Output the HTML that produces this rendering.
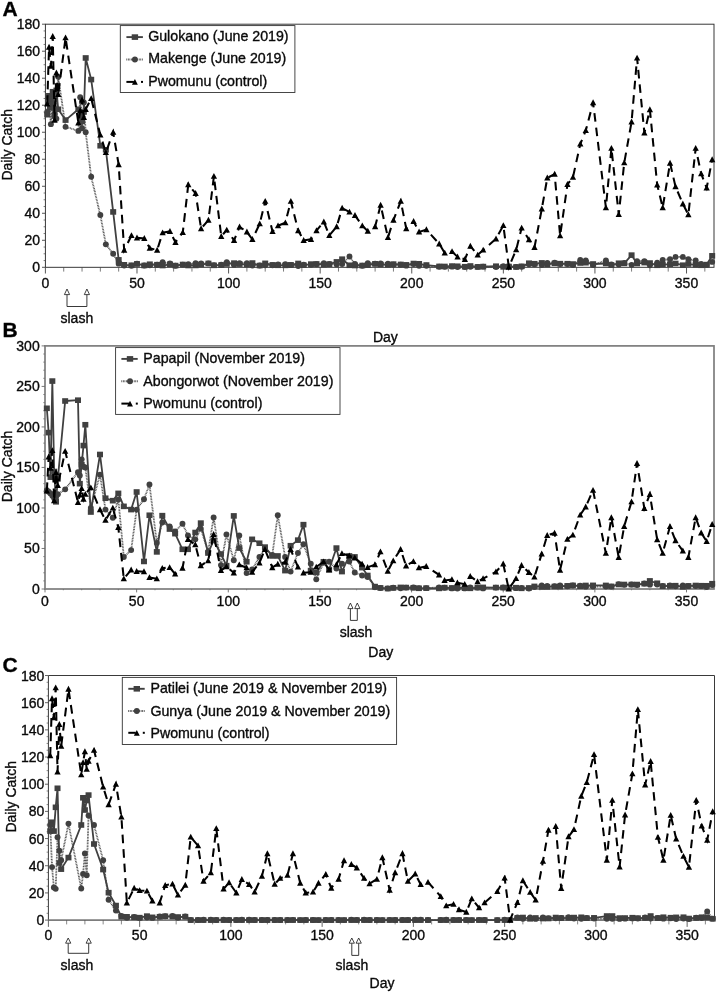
<!DOCTYPE html>
<html><head><meta charset="utf-8"><title>Daily Catch</title>
<style>
html,body{margin:0;padding:0;background:#fff;}
svg{display:block;font-family:"Liberation Sans",sans-serif;fill:#0a0a0a;}
text{stroke:#0a0a0a;stroke-width:0.35px;}
</style></head><body>
<svg width="717" height="993" viewBox="0 0 717 993">
<rect width="717" height="993" fill="#fff"/>
<rect x="45.4" y="24.2" width="668.6" height="243.1" fill="none" stroke="#2e2e2e" stroke-width="0.95"/>
<line x1="42" x2="45.4" y1="267.3" y2="267.3" stroke="#444" stroke-width="0.9"/>
<text x="40.1" y="272.3" font-size="14" text-anchor="end">0</text>
<line x1="43.6" x2="45.4" y1="260.55" y2="260.55" stroke="#444" stroke-width="0.7"/>
<line x1="43.6" x2="45.4" y1="253.79" y2="253.79" stroke="#444" stroke-width="0.7"/>
<line x1="43.6" x2="45.4" y1="247.04" y2="247.04" stroke="#444" stroke-width="0.7"/>
<line x1="42" x2="45.4" y1="240.29" y2="240.29" stroke="#444" stroke-width="0.9"/>
<text x="40.1" y="245.29" font-size="14" text-anchor="end">20</text>
<line x1="43.6" x2="45.4" y1="233.54" y2="233.54" stroke="#444" stroke-width="0.7"/>
<line x1="43.6" x2="45.4" y1="226.78" y2="226.78" stroke="#444" stroke-width="0.7"/>
<line x1="43.6" x2="45.4" y1="220.03" y2="220.03" stroke="#444" stroke-width="0.7"/>
<line x1="42" x2="45.4" y1="213.28" y2="213.28" stroke="#444" stroke-width="0.9"/>
<text x="40.1" y="218.28" font-size="14" text-anchor="end">40</text>
<line x1="43.6" x2="45.4" y1="206.53" y2="206.53" stroke="#444" stroke-width="0.7"/>
<line x1="43.6" x2="45.4" y1="199.77" y2="199.77" stroke="#444" stroke-width="0.7"/>
<line x1="43.6" x2="45.4" y1="193.02" y2="193.02" stroke="#444" stroke-width="0.7"/>
<line x1="42" x2="45.4" y1="186.27" y2="186.27" stroke="#444" stroke-width="0.9"/>
<text x="40.1" y="191.27" font-size="14" text-anchor="end">60</text>
<line x1="43.6" x2="45.4" y1="179.51" y2="179.51" stroke="#444" stroke-width="0.7"/>
<line x1="43.6" x2="45.4" y1="172.76" y2="172.76" stroke="#444" stroke-width="0.7"/>
<line x1="43.6" x2="45.4" y1="166.01" y2="166.01" stroke="#444" stroke-width="0.7"/>
<line x1="42" x2="45.4" y1="159.26" y2="159.26" stroke="#444" stroke-width="0.9"/>
<text x="40.1" y="164.26" font-size="14" text-anchor="end">80</text>
<line x1="43.6" x2="45.4" y1="152.5" y2="152.5" stroke="#444" stroke-width="0.7"/>
<line x1="43.6" x2="45.4" y1="145.75" y2="145.75" stroke="#444" stroke-width="0.7"/>
<line x1="43.6" x2="45.4" y1="139" y2="139" stroke="#444" stroke-width="0.7"/>
<line x1="42" x2="45.4" y1="132.24" y2="132.24" stroke="#444" stroke-width="0.9"/>
<text x="40.1" y="137.24" font-size="14" text-anchor="end">100</text>
<line x1="43.6" x2="45.4" y1="125.49" y2="125.49" stroke="#444" stroke-width="0.7"/>
<line x1="43.6" x2="45.4" y1="118.74" y2="118.74" stroke="#444" stroke-width="0.7"/>
<line x1="43.6" x2="45.4" y1="111.99" y2="111.99" stroke="#444" stroke-width="0.7"/>
<line x1="42" x2="45.4" y1="105.23" y2="105.23" stroke="#444" stroke-width="0.9"/>
<text x="40.1" y="110.23" font-size="14" text-anchor="end">120</text>
<line x1="43.6" x2="45.4" y1="98.48" y2="98.48" stroke="#444" stroke-width="0.7"/>
<line x1="43.6" x2="45.4" y1="91.73" y2="91.73" stroke="#444" stroke-width="0.7"/>
<line x1="43.6" x2="45.4" y1="84.98" y2="84.98" stroke="#444" stroke-width="0.7"/>
<line x1="42" x2="45.4" y1="78.22" y2="78.22" stroke="#444" stroke-width="0.9"/>
<text x="40.1" y="83.22" font-size="14" text-anchor="end">140</text>
<line x1="43.6" x2="45.4" y1="71.47" y2="71.47" stroke="#444" stroke-width="0.7"/>
<line x1="43.6" x2="45.4" y1="64.72" y2="64.72" stroke="#444" stroke-width="0.7"/>
<line x1="43.6" x2="45.4" y1="57.96" y2="57.96" stroke="#444" stroke-width="0.7"/>
<line x1="42" x2="45.4" y1="51.21" y2="51.21" stroke="#444" stroke-width="0.9"/>
<text x="40.1" y="56.21" font-size="14" text-anchor="end">160</text>
<line x1="43.6" x2="45.4" y1="44.46" y2="44.46" stroke="#444" stroke-width="0.7"/>
<line x1="43.6" x2="45.4" y1="37.71" y2="37.71" stroke="#444" stroke-width="0.7"/>
<line x1="43.6" x2="45.4" y1="30.95" y2="30.95" stroke="#444" stroke-width="0.7"/>
<line x1="42" x2="45.4" y1="24.2" y2="24.2" stroke="#444" stroke-width="0.9"/>
<text x="40.1" y="29.2" font-size="14" text-anchor="end">180</text>
<line x1="45.4" x2="45.4" y1="267.3" y2="273.5" stroke="#444" stroke-width="0.9"/>
<text x="45.4" y="287.9" font-size="14" text-anchor="middle">0</text>
<line x1="63.72" x2="63.72" y1="267.3" y2="271.6" stroke="#444" stroke-width="0.7"/>
<line x1="82.04" x2="82.04" y1="267.3" y2="271.6" stroke="#444" stroke-width="0.7"/>
<line x1="100.35" x2="100.35" y1="267.3" y2="271.6" stroke="#444" stroke-width="0.7"/>
<line x1="118.67" x2="118.67" y1="267.3" y2="271.6" stroke="#444" stroke-width="0.7"/>
<line x1="136.99" x2="136.99" y1="267.3" y2="273.5" stroke="#444" stroke-width="0.9"/>
<text x="136.99" y="287.9" font-size="14" text-anchor="middle">50</text>
<line x1="155.31" x2="155.31" y1="267.3" y2="271.6" stroke="#444" stroke-width="0.7"/>
<line x1="173.62" x2="173.62" y1="267.3" y2="271.6" stroke="#444" stroke-width="0.7"/>
<line x1="191.94" x2="191.94" y1="267.3" y2="271.6" stroke="#444" stroke-width="0.7"/>
<line x1="210.26" x2="210.26" y1="267.3" y2="271.6" stroke="#444" stroke-width="0.7"/>
<line x1="228.58" x2="228.58" y1="267.3" y2="273.5" stroke="#444" stroke-width="0.9"/>
<text x="228.58" y="287.9" font-size="14" text-anchor="middle">100</text>
<line x1="246.9" x2="246.9" y1="267.3" y2="271.6" stroke="#444" stroke-width="0.7"/>
<line x1="265.21" x2="265.21" y1="267.3" y2="271.6" stroke="#444" stroke-width="0.7"/>
<line x1="283.53" x2="283.53" y1="267.3" y2="271.6" stroke="#444" stroke-width="0.7"/>
<line x1="301.85" x2="301.85" y1="267.3" y2="271.6" stroke="#444" stroke-width="0.7"/>
<line x1="320.17" x2="320.17" y1="267.3" y2="273.5" stroke="#444" stroke-width="0.9"/>
<text x="320.17" y="287.9" font-size="14" text-anchor="middle">150</text>
<line x1="338.48" x2="338.48" y1="267.3" y2="271.6" stroke="#444" stroke-width="0.7"/>
<line x1="356.8" x2="356.8" y1="267.3" y2="271.6" stroke="#444" stroke-width="0.7"/>
<line x1="375.12" x2="375.12" y1="267.3" y2="271.6" stroke="#444" stroke-width="0.7"/>
<line x1="393.44" x2="393.44" y1="267.3" y2="271.6" stroke="#444" stroke-width="0.7"/>
<line x1="411.76" x2="411.76" y1="267.3" y2="273.5" stroke="#444" stroke-width="0.9"/>
<text x="411.76" y="287.9" font-size="14" text-anchor="middle">200</text>
<line x1="430.07" x2="430.07" y1="267.3" y2="271.6" stroke="#444" stroke-width="0.7"/>
<line x1="448.39" x2="448.39" y1="267.3" y2="271.6" stroke="#444" stroke-width="0.7"/>
<line x1="466.71" x2="466.71" y1="267.3" y2="271.6" stroke="#444" stroke-width="0.7"/>
<line x1="485.03" x2="485.03" y1="267.3" y2="271.6" stroke="#444" stroke-width="0.7"/>
<line x1="503.35" x2="503.35" y1="267.3" y2="273.5" stroke="#444" stroke-width="0.9"/>
<text x="503.35" y="287.9" font-size="14" text-anchor="middle">250</text>
<line x1="521.66" x2="521.66" y1="267.3" y2="271.6" stroke="#444" stroke-width="0.7"/>
<line x1="539.98" x2="539.98" y1="267.3" y2="271.6" stroke="#444" stroke-width="0.7"/>
<line x1="558.3" x2="558.3" y1="267.3" y2="271.6" stroke="#444" stroke-width="0.7"/>
<line x1="576.62" x2="576.62" y1="267.3" y2="271.6" stroke="#444" stroke-width="0.7"/>
<line x1="594.93" x2="594.93" y1="267.3" y2="273.5" stroke="#444" stroke-width="0.9"/>
<text x="594.93" y="287.9" font-size="14" text-anchor="middle">300</text>
<line x1="613.25" x2="613.25" y1="267.3" y2="271.6" stroke="#444" stroke-width="0.7"/>
<line x1="631.57" x2="631.57" y1="267.3" y2="271.6" stroke="#444" stroke-width="0.7"/>
<line x1="649.89" x2="649.89" y1="267.3" y2="271.6" stroke="#444" stroke-width="0.7"/>
<line x1="668.21" x2="668.21" y1="267.3" y2="271.6" stroke="#444" stroke-width="0.7"/>
<line x1="686.52" x2="686.52" y1="267.3" y2="273.5" stroke="#444" stroke-width="0.9"/>
<text x="686.52" y="287.9" font-size="14" text-anchor="middle">350</text>
<line x1="704.84" x2="704.84" y1="267.3" y2="271.6" stroke="#444" stroke-width="0.7"/>
<path d="M47.23 114.69 L49.06 95.78 L50.9 107.93 L52.73 91.73 L54.56 116.04 L56.39 90.38 L58.22 109.28 L65.55 120.09 L78.37 109.28 L80.2 116.04 L82.04 121.44 L83.87 111.99 L85.7 57.96 L91.19 79.57 L100.35 145.75 L105.85 149.8 L113.18 211.93 L118.67 259.87 L124.17 264.8 L131.49 265.27 L136.99 263.92 L144.32 265.48 L149.81 264.23 L157.14 264.69 L162.63 265.52 L169.96 264.31 L175.46 265.58 L182.78 264.51 L188.28 265.49 L195.61 265.43 L201.1 264.53 L208.43 263.45 L213.92 265.34 L221.25 265.08 L226.75 263.98 L234.07 263.12 L239.57 264.12 L246.9 264.61 L252.39 263.04 L259.72 265.55 L265.21 263.36 L272.54 264.9 L278.04 265.29 L285.36 265.36 L290.86 264.85 L298.19 263.47 L303.68 265.19 L311.01 264.11 L316.5 263.95 L323.83 264.67 L329.33 264.2 L336.65 261.9 L342.15 259.2 L349.48 265.27 L354.97 265.51 L362.3 265.52 L367.79 265.12 L375.12 263.84 L380.62 264.52 L387.94 264.83 L393.44 264.1 L400.77 264.46 L406.26 264.87 L413.59 263.53 L419.08 263.79 L426.41 265.02 L439.23 266.41 L444.73 266.46 L452.06 266.08 L457.55 266.24 L464.88 266.72 L470.37 265.97 L477.7 266.9 L483.2 266.58 L496.02 266.21 L503.35 266.87 L508.84 266.5 L516.17 266.99 L521.66 266.31 L528.99 263.21 L534.49 263.73 L541.81 262.91 L547.31 264.43 L554.64 263.4 L560.13 263.67 L567.46 263.71 L572.95 264.04 L580.28 263.01 L585.78 262.72 L593.1 263.99 L605.92 263.48 L611.42 265.11 L618.75 263.25 L624.24 263.38 L631.57 255.15 L637.07 263.53 L644.39 262.59 L649.89 263.05 L657.21 265.27 L662.71 264.51 L670.04 264.23 L675.53 263.47 L682.86 265.21 L688.36 264.03 L695.68 264.82 L701.18 265.27 L706.67 264.6 L712.17 255.82" fill="none" stroke="#404040" stroke-width="1.8" stroke-linejoin="round"/>
<rect x="44.23" y="111.89" width="6" height="5.6" fill="#404040"/>
<rect x="46.06" y="92.98" width="6" height="5.6" fill="#404040"/>
<rect x="47.9" y="105.13" width="6" height="5.6" fill="#404040"/>
<rect x="49.73" y="88.93" width="6" height="5.6" fill="#404040"/>
<rect x="51.56" y="113.24" width="6" height="5.6" fill="#404040"/>
<rect x="53.39" y="87.58" width="6" height="5.6" fill="#404040"/>
<rect x="55.22" y="106.48" width="6" height="5.6" fill="#404040"/>
<rect x="62.55" y="117.29" width="6" height="5.6" fill="#404040"/>
<rect x="75.37" y="106.48" width="6" height="5.6" fill="#404040"/>
<rect x="77.2" y="113.24" width="6" height="5.6" fill="#404040"/>
<rect x="79.04" y="118.64" width="6" height="5.6" fill="#404040"/>
<rect x="80.87" y="109.19" width="6" height="5.6" fill="#404040"/>
<rect x="82.7" y="55.16" width="6" height="5.6" fill="#404040"/>
<rect x="88.19" y="76.77" width="6" height="5.6" fill="#404040"/>
<rect x="97.35" y="142.95" width="6" height="5.6" fill="#404040"/>
<rect x="102.85" y="147" width="6" height="5.6" fill="#404040"/>
<rect x="110.18" y="209.13" width="6" height="5.6" fill="#404040"/>
<rect x="115.67" y="257.07" width="6" height="5.6" fill="#404040"/>
<rect x="121.17" y="262" width="6" height="5.6" fill="#404040"/>
<rect x="128.49" y="262.47" width="6" height="5.6" fill="#404040"/>
<rect x="133.99" y="261.12" width="6" height="5.6" fill="#404040"/>
<rect x="141.32" y="262.68" width="6" height="5.6" fill="#404040"/>
<rect x="146.81" y="261.43" width="6" height="5.6" fill="#404040"/>
<rect x="154.14" y="261.89" width="6" height="5.6" fill="#404040"/>
<rect x="159.63" y="262.72" width="6" height="5.6" fill="#404040"/>
<rect x="166.96" y="261.51" width="6" height="5.6" fill="#404040"/>
<rect x="172.46" y="262.78" width="6" height="5.6" fill="#404040"/>
<rect x="179.78" y="261.71" width="6" height="5.6" fill="#404040"/>
<rect x="185.28" y="262.69" width="6" height="5.6" fill="#404040"/>
<rect x="192.61" y="262.63" width="6" height="5.6" fill="#404040"/>
<rect x="198.1" y="261.73" width="6" height="5.6" fill="#404040"/>
<rect x="205.43" y="260.65" width="6" height="5.6" fill="#404040"/>
<rect x="210.92" y="262.54" width="6" height="5.6" fill="#404040"/>
<rect x="218.25" y="262.28" width="6" height="5.6" fill="#404040"/>
<rect x="223.75" y="261.18" width="6" height="5.6" fill="#404040"/>
<rect x="231.07" y="260.32" width="6" height="5.6" fill="#404040"/>
<rect x="236.57" y="261.32" width="6" height="5.6" fill="#404040"/>
<rect x="243.9" y="261.81" width="6" height="5.6" fill="#404040"/>
<rect x="249.39" y="260.24" width="6" height="5.6" fill="#404040"/>
<rect x="256.72" y="262.75" width="6" height="5.6" fill="#404040"/>
<rect x="262.21" y="260.56" width="6" height="5.6" fill="#404040"/>
<rect x="269.54" y="262.1" width="6" height="5.6" fill="#404040"/>
<rect x="275.04" y="262.49" width="6" height="5.6" fill="#404040"/>
<rect x="282.36" y="262.56" width="6" height="5.6" fill="#404040"/>
<rect x="287.86" y="262.05" width="6" height="5.6" fill="#404040"/>
<rect x="295.19" y="260.67" width="6" height="5.6" fill="#404040"/>
<rect x="300.68" y="262.39" width="6" height="5.6" fill="#404040"/>
<rect x="308.01" y="261.31" width="6" height="5.6" fill="#404040"/>
<rect x="313.5" y="261.15" width="6" height="5.6" fill="#404040"/>
<rect x="320.83" y="261.87" width="6" height="5.6" fill="#404040"/>
<rect x="326.33" y="261.4" width="6" height="5.6" fill="#404040"/>
<rect x="333.65" y="259.1" width="6" height="5.6" fill="#404040"/>
<rect x="339.15" y="256.4" width="6" height="5.6" fill="#404040"/>
<rect x="346.48" y="262.47" width="6" height="5.6" fill="#404040"/>
<rect x="351.97" y="262.71" width="6" height="5.6" fill="#404040"/>
<rect x="359.3" y="262.72" width="6" height="5.6" fill="#404040"/>
<rect x="364.79" y="262.32" width="6" height="5.6" fill="#404040"/>
<rect x="372.12" y="261.04" width="6" height="5.6" fill="#404040"/>
<rect x="377.62" y="261.72" width="6" height="5.6" fill="#404040"/>
<rect x="384.94" y="262.03" width="6" height="5.6" fill="#404040"/>
<rect x="390.44" y="261.3" width="6" height="5.6" fill="#404040"/>
<rect x="397.77" y="261.66" width="6" height="5.6" fill="#404040"/>
<rect x="403.26" y="262.07" width="6" height="5.6" fill="#404040"/>
<rect x="410.59" y="260.73" width="6" height="5.6" fill="#404040"/>
<rect x="416.08" y="260.99" width="6" height="5.6" fill="#404040"/>
<rect x="423.41" y="262.22" width="6" height="5.6" fill="#404040"/>
<rect x="436.23" y="263.61" width="6" height="5.6" fill="#404040"/>
<rect x="441.73" y="263.66" width="6" height="5.6" fill="#404040"/>
<rect x="449.06" y="263.28" width="6" height="5.6" fill="#404040"/>
<rect x="454.55" y="263.44" width="6" height="5.6" fill="#404040"/>
<rect x="461.88" y="263.92" width="6" height="5.6" fill="#404040"/>
<rect x="467.37" y="263.17" width="6" height="5.6" fill="#404040"/>
<rect x="474.7" y="264.1" width="6" height="5.6" fill="#404040"/>
<rect x="480.2" y="263.78" width="6" height="5.6" fill="#404040"/>
<rect x="493.02" y="263.41" width="6" height="5.6" fill="#404040"/>
<rect x="500.35" y="264.07" width="6" height="5.6" fill="#404040"/>
<rect x="505.84" y="263.7" width="6" height="5.6" fill="#404040"/>
<rect x="513.17" y="264.19" width="6" height="5.6" fill="#404040"/>
<rect x="518.66" y="263.51" width="6" height="5.6" fill="#404040"/>
<rect x="525.99" y="260.41" width="6" height="5.6" fill="#404040"/>
<rect x="531.49" y="260.93" width="6" height="5.6" fill="#404040"/>
<rect x="538.81" y="260.11" width="6" height="5.6" fill="#404040"/>
<rect x="544.31" y="261.63" width="6" height="5.6" fill="#404040"/>
<rect x="551.64" y="260.6" width="6" height="5.6" fill="#404040"/>
<rect x="557.13" y="260.87" width="6" height="5.6" fill="#404040"/>
<rect x="564.46" y="260.91" width="6" height="5.6" fill="#404040"/>
<rect x="569.95" y="261.24" width="6" height="5.6" fill="#404040"/>
<rect x="577.28" y="260.21" width="6" height="5.6" fill="#404040"/>
<rect x="582.78" y="259.92" width="6" height="5.6" fill="#404040"/>
<rect x="590.1" y="261.19" width="6" height="5.6" fill="#404040"/>
<rect x="602.92" y="260.68" width="6" height="5.6" fill="#404040"/>
<rect x="608.42" y="262.31" width="6" height="5.6" fill="#404040"/>
<rect x="615.75" y="260.45" width="6" height="5.6" fill="#404040"/>
<rect x="621.24" y="260.58" width="6" height="5.6" fill="#404040"/>
<rect x="628.57" y="252.34" width="6" height="5.6" fill="#404040"/>
<rect x="634.07" y="260.73" width="6" height="5.6" fill="#404040"/>
<rect x="641.39" y="259.79" width="6" height="5.6" fill="#404040"/>
<rect x="646.89" y="260.25" width="6" height="5.6" fill="#404040"/>
<rect x="654.21" y="262.47" width="6" height="5.6" fill="#404040"/>
<rect x="659.71" y="261.71" width="6" height="5.6" fill="#404040"/>
<rect x="667.04" y="261.43" width="6" height="5.6" fill="#404040"/>
<rect x="672.53" y="260.67" width="6" height="5.6" fill="#404040"/>
<rect x="679.86" y="262.41" width="6" height="5.6" fill="#404040"/>
<rect x="685.36" y="261.23" width="6" height="5.6" fill="#404040"/>
<rect x="692.68" y="262.02" width="6" height="5.6" fill="#404040"/>
<rect x="698.18" y="262.47" width="6" height="5.6" fill="#404040"/>
<rect x="703.67" y="261.8" width="6" height="5.6" fill="#404040"/>
<rect x="709.17" y="253.02" width="6" height="5.6" fill="#404040"/>
<path d="M47.23 111.99 L49.06 98.48 L50.9 124.14 L52.73 103.88 L54.56 113.34 L56.39 118.74 L58.22 76.87 L65.55 126.84 L78.37 130.89 L80.2 97.13 L82.04 128.19 L83.87 102.53 L85.7 132.24 L91.19 176.81 L100.35 215.03 L105.85 244.34 L113.18 253.79 L118.67 263.65 L124.17 265.6 L131.49 265.77 L136.99 263.67 L144.32 265.57 L149.81 265.21 L157.14 264.79 L162.63 262.17 L169.96 263.36 L175.46 265.71 L182.78 264.61 L188.28 264.32 L195.61 263.32 L201.1 263.52 L208.43 263.38 L213.92 265.12 L221.25 264.72 L226.75 262.17 L234.07 264.88 L239.57 263.32 L246.9 263.1 L252.39 265.5 L259.72 265.43 L265.21 265.26 L272.54 265.26 L278.04 264.51 L285.36 264.2 L290.86 265.17 L298.19 265.94 L303.68 264.7 L311.01 264.85 L316.5 264.27 L323.83 263.12 L329.33 263.9 L336.65 264.42 L342.15 264.11 L349.48 256.5 L354.97 263.94 L362.3 265.79 L367.79 263.28 L375.12 263.63 L380.62 263.35 L387.94 263.58 L393.44 264.78 L400.77 264.76 L406.26 265.64 L413.59 264.06 L419.08 265.76 L426.41 265.75 L439.23 266.8 L444.73 266.85 L452.06 266.66 L457.55 266.97 L464.88 267.03 L470.37 266.87 L477.7 266.92 L483.2 266.64 L496.02 267 L503.35 266.09 L508.84 266.37 L516.17 266.87 L521.66 266.76 L528.99 264.34 L534.49 264.29 L541.81 264.94 L547.31 262.98 L554.64 262.59 L560.13 264.02 L567.46 263.97 L572.95 265.04 L580.28 259.87 L585.78 260.55 L593.1 265 L605.92 260.55 L611.42 264.35 L618.75 264.56 L624.24 263.04 L631.57 264.84 L637.07 261.22 L644.39 261.22 L649.89 265.21 L657.21 262.71 L662.71 259.87 L670.04 259.2 L675.53 256.9 L682.86 256.9 L688.36 259.2 L695.68 260.55 L701.18 263.85 L706.67 264.88 L712.17 261.9" fill="none" stroke="#444" stroke-width="1.8" stroke-dasharray="0.8 0.75"/>
<circle cx="47.23" cy="111.99" r="2.95" fill="#404040"/>
<circle cx="49.06" cy="98.48" r="2.95" fill="#404040"/>
<circle cx="50.9" cy="124.14" r="2.95" fill="#404040"/>
<circle cx="52.73" cy="103.88" r="2.95" fill="#404040"/>
<circle cx="54.56" cy="113.34" r="2.95" fill="#404040"/>
<circle cx="56.39" cy="118.74" r="2.95" fill="#404040"/>
<circle cx="58.22" cy="76.87" r="2.95" fill="#404040"/>
<circle cx="65.55" cy="126.84" r="2.95" fill="#404040"/>
<circle cx="78.37" cy="130.89" r="2.95" fill="#404040"/>
<circle cx="80.2" cy="97.13" r="2.95" fill="#404040"/>
<circle cx="82.04" cy="128.19" r="2.95" fill="#404040"/>
<circle cx="83.87" cy="102.53" r="2.95" fill="#404040"/>
<circle cx="85.7" cy="132.24" r="2.95" fill="#404040"/>
<circle cx="91.19" cy="176.81" r="2.95" fill="#404040"/>
<circle cx="100.35" cy="215.03" r="2.95" fill="#404040"/>
<circle cx="105.85" cy="244.34" r="2.95" fill="#404040"/>
<circle cx="113.18" cy="253.79" r="2.95" fill="#404040"/>
<circle cx="118.67" cy="263.65" r="2.95" fill="#404040"/>
<circle cx="124.17" cy="265.6" r="2.95" fill="#404040"/>
<circle cx="131.49" cy="265.77" r="2.95" fill="#404040"/>
<circle cx="136.99" cy="263.67" r="2.95" fill="#404040"/>
<circle cx="144.32" cy="265.57" r="2.95" fill="#404040"/>
<circle cx="149.81" cy="265.21" r="2.95" fill="#404040"/>
<circle cx="157.14" cy="264.79" r="2.95" fill="#404040"/>
<circle cx="162.63" cy="262.17" r="2.95" fill="#404040"/>
<circle cx="169.96" cy="263.36" r="2.95" fill="#404040"/>
<circle cx="175.46" cy="265.71" r="2.95" fill="#404040"/>
<circle cx="182.78" cy="264.61" r="2.95" fill="#404040"/>
<circle cx="188.28" cy="264.32" r="2.95" fill="#404040"/>
<circle cx="195.61" cy="263.32" r="2.95" fill="#404040"/>
<circle cx="201.1" cy="263.52" r="2.95" fill="#404040"/>
<circle cx="208.43" cy="263.38" r="2.95" fill="#404040"/>
<circle cx="213.92" cy="265.12" r="2.95" fill="#404040"/>
<circle cx="221.25" cy="264.72" r="2.95" fill="#404040"/>
<circle cx="226.75" cy="262.17" r="2.95" fill="#404040"/>
<circle cx="234.07" cy="264.88" r="2.95" fill="#404040"/>
<circle cx="239.57" cy="263.32" r="2.95" fill="#404040"/>
<circle cx="246.9" cy="263.1" r="2.95" fill="#404040"/>
<circle cx="252.39" cy="265.5" r="2.95" fill="#404040"/>
<circle cx="259.72" cy="265.43" r="2.95" fill="#404040"/>
<circle cx="265.21" cy="265.26" r="2.95" fill="#404040"/>
<circle cx="272.54" cy="265.26" r="2.95" fill="#404040"/>
<circle cx="278.04" cy="264.51" r="2.95" fill="#404040"/>
<circle cx="285.36" cy="264.2" r="2.95" fill="#404040"/>
<circle cx="290.86" cy="265.17" r="2.95" fill="#404040"/>
<circle cx="298.19" cy="265.94" r="2.95" fill="#404040"/>
<circle cx="303.68" cy="264.7" r="2.95" fill="#404040"/>
<circle cx="311.01" cy="264.85" r="2.95" fill="#404040"/>
<circle cx="316.5" cy="264.27" r="2.95" fill="#404040"/>
<circle cx="323.83" cy="263.12" r="2.95" fill="#404040"/>
<circle cx="329.33" cy="263.9" r="2.95" fill="#404040"/>
<circle cx="336.65" cy="264.42" r="2.95" fill="#404040"/>
<circle cx="342.15" cy="264.11" r="2.95" fill="#404040"/>
<circle cx="349.48" cy="256.5" r="2.95" fill="#404040"/>
<circle cx="354.97" cy="263.94" r="2.95" fill="#404040"/>
<circle cx="362.3" cy="265.79" r="2.95" fill="#404040"/>
<circle cx="367.79" cy="263.28" r="2.95" fill="#404040"/>
<circle cx="375.12" cy="263.63" r="2.95" fill="#404040"/>
<circle cx="380.62" cy="263.35" r="2.95" fill="#404040"/>
<circle cx="387.94" cy="263.58" r="2.95" fill="#404040"/>
<circle cx="393.44" cy="264.78" r="2.95" fill="#404040"/>
<circle cx="400.77" cy="264.76" r="2.95" fill="#404040"/>
<circle cx="406.26" cy="265.64" r="2.95" fill="#404040"/>
<circle cx="413.59" cy="264.06" r="2.95" fill="#404040"/>
<circle cx="419.08" cy="265.76" r="2.95" fill="#404040"/>
<circle cx="426.41" cy="265.75" r="2.95" fill="#404040"/>
<circle cx="439.23" cy="266.8" r="2.95" fill="#404040"/>
<circle cx="444.73" cy="266.85" r="2.95" fill="#404040"/>
<circle cx="452.06" cy="266.66" r="2.95" fill="#404040"/>
<circle cx="457.55" cy="266.97" r="2.95" fill="#404040"/>
<circle cx="464.88" cy="267.03" r="2.95" fill="#404040"/>
<circle cx="470.37" cy="266.87" r="2.95" fill="#404040"/>
<circle cx="477.7" cy="266.92" r="2.95" fill="#404040"/>
<circle cx="483.2" cy="266.64" r="2.95" fill="#404040"/>
<circle cx="496.02" cy="267" r="2.95" fill="#404040"/>
<circle cx="503.35" cy="266.09" r="2.95" fill="#404040"/>
<circle cx="508.84" cy="266.37" r="2.95" fill="#404040"/>
<circle cx="516.17" cy="266.87" r="2.95" fill="#404040"/>
<circle cx="521.66" cy="266.76" r="2.95" fill="#404040"/>
<circle cx="528.99" cy="264.34" r="2.95" fill="#404040"/>
<circle cx="534.49" cy="264.29" r="2.95" fill="#404040"/>
<circle cx="541.81" cy="264.94" r="2.95" fill="#404040"/>
<circle cx="547.31" cy="262.98" r="2.95" fill="#404040"/>
<circle cx="554.64" cy="262.59" r="2.95" fill="#404040"/>
<circle cx="560.13" cy="264.02" r="2.95" fill="#404040"/>
<circle cx="567.46" cy="263.97" r="2.95" fill="#404040"/>
<circle cx="572.95" cy="265.04" r="2.95" fill="#404040"/>
<circle cx="580.28" cy="259.87" r="2.95" fill="#404040"/>
<circle cx="585.78" cy="260.55" r="2.95" fill="#404040"/>
<circle cx="593.1" cy="265" r="2.95" fill="#404040"/>
<circle cx="605.92" cy="260.55" r="2.95" fill="#404040"/>
<circle cx="611.42" cy="264.35" r="2.95" fill="#404040"/>
<circle cx="618.75" cy="264.56" r="2.95" fill="#404040"/>
<circle cx="624.24" cy="263.04" r="2.95" fill="#404040"/>
<circle cx="631.57" cy="264.84" r="2.95" fill="#404040"/>
<circle cx="637.07" cy="261.22" r="2.95" fill="#404040"/>
<circle cx="644.39" cy="261.22" r="2.95" fill="#404040"/>
<circle cx="649.89" cy="265.21" r="2.95" fill="#404040"/>
<circle cx="657.21" cy="262.71" r="2.95" fill="#404040"/>
<circle cx="662.71" cy="259.87" r="2.95" fill="#404040"/>
<circle cx="670.04" cy="259.2" r="2.95" fill="#404040"/>
<circle cx="675.53" cy="256.9" r="2.95" fill="#404040"/>
<circle cx="682.86" cy="256.9" r="2.95" fill="#404040"/>
<circle cx="688.36" cy="259.2" r="2.95" fill="#404040"/>
<circle cx="695.68" cy="260.55" r="2.95" fill="#404040"/>
<circle cx="701.18" cy="263.85" r="2.95" fill="#404040"/>
<circle cx="706.67" cy="264.88" r="2.95" fill="#404040"/>
<circle cx="712.17" cy="261.9" r="2.95" fill="#404040"/>
<path d="M47.23 103.88 L49.06 47.16 L50.9 66.07 L52.73 36.35 L54.56 120.09 L56.39 72.82 L58.22 94.43 L65.55 37.71 L78.37 122.79 L80.2 110.64 L82.04 99.83 L83.87 117.39 L85.7 109.28 L91.19 98.48 L100.35 134.95 L105.85 152.5 L113.18 132.24 L118.67 164.66 L124.17 250.15 L131.49 235.43 L136.99 237.86 L144.32 238.4 L149.81 248.12 L157.14 250.15 L162.63 232.73 L169.96 231.38 L175.46 242.31 L182.78 232.46 L188.28 184.65 L195.61 193.42 L201.1 228.54 L208.43 220.17 L213.92 176.27 L221.25 236.37 L226.75 230.02 L234.07 240.29 L239.57 226.78 L246.9 231.92 L252.39 239.34 L259.72 223.68 L265.21 201.26 L272.54 231.51 L278.04 225.7 L285.36 222.73 L290.86 201.26 L298.19 230.56 L303.68 240.29 L311.01 239.34 L316.5 230.56 L323.83 221.79 L329.33 235.43 L336.65 226.65 L342.15 208.15 L349.48 211.93 L354.97 215.3 L362.3 225.7 L367.79 231.11 L375.12 226.65 L380.62 205.17 L387.94 237.45 L393.44 220.17 L400.77 201.26 L406.26 228.67 L413.59 221.38 L419.08 231.92 L426.41 229.62 L439.23 243.8 L444.73 252.98 L452.06 251.5 L457.55 256.9 L464.88 259.33 L470.37 246.1 L477.7 255.01 L483.2 250.01 L496.02 238.8 L503.35 225.43 L508.84 267.03 L516.17 249.74 L521.66 228 L528.99 239.61 L534.49 247.31 L541.81 208.82 L547.31 177.89 L554.64 174.11 L560.13 235.7 L567.46 184.38 L572.95 177.22 L580.28 143.99 L585.78 130.49 L593.1 102.67 L605.92 207.74 L611.42 148.18 L618.75 214.49 L624.24 162.77 L631.57 121.85 L637.07 57.96 L644.39 132.92 L649.89 109.56 L657.21 184.92 L662.71 207.61 L670.04 163.04 L675.53 186.67 L682.86 203.82 L688.36 214.63 L695.68 148.18 L701.18 173.71 L706.67 187.89 L712.17 159.53" fill="none" stroke="#000" stroke-width="2.05" stroke-dasharray="8.6 5.9"/>
<path d="M47.23 100.58 l3.15 5.9 h-6.3 z" fill="#000"/>
<path d="M49.06 43.86 l3.15 5.9 h-6.3 z" fill="#000"/>
<path d="M50.9 62.77 l3.15 5.9 h-6.3 z" fill="#000"/>
<path d="M52.73 33.05 l3.15 5.9 h-6.3 z" fill="#000"/>
<path d="M54.56 116.79 l3.15 5.9 h-6.3 z" fill="#000"/>
<path d="M56.39 69.52 l3.15 5.9 h-6.3 z" fill="#000"/>
<path d="M58.22 91.13 l3.15 5.9 h-6.3 z" fill="#000"/>
<path d="M65.55 34.41 l3.15 5.9 h-6.3 z" fill="#000"/>
<path d="M78.37 119.49 l3.15 5.9 h-6.3 z" fill="#000"/>
<path d="M80.2 107.34 l3.15 5.9 h-6.3 z" fill="#000"/>
<path d="M82.04 96.53 l3.15 5.9 h-6.3 z" fill="#000"/>
<path d="M83.87 114.09 l3.15 5.9 h-6.3 z" fill="#000"/>
<path d="M85.7 105.98 l3.15 5.9 h-6.3 z" fill="#000"/>
<path d="M91.19 95.18 l3.15 5.9 h-6.3 z" fill="#000"/>
<path d="M100.35 131.65 l3.15 5.9 h-6.3 z" fill="#000"/>
<path d="M105.85 149.2 l3.15 5.9 h-6.3 z" fill="#000"/>
<path d="M113.18 128.94 l3.15 5.9 h-6.3 z" fill="#000"/>
<path d="M118.67 161.36 l3.15 5.9 h-6.3 z" fill="#000"/>
<path d="M124.17 246.85 l3.15 5.9 h-6.3 z" fill="#000"/>
<path d="M131.49 232.13 l3.15 5.9 h-6.3 z" fill="#000"/>
<path d="M136.99 234.56 l3.15 5.9 h-6.3 z" fill="#000"/>
<path d="M144.32 235.1 l3.15 5.9 h-6.3 z" fill="#000"/>
<path d="M149.81 244.82 l3.15 5.9 h-6.3 z" fill="#000"/>
<path d="M157.14 246.85 l3.15 5.9 h-6.3 z" fill="#000"/>
<path d="M162.63 229.43 l3.15 5.9 h-6.3 z" fill="#000"/>
<path d="M169.96 228.08 l3.15 5.9 h-6.3 z" fill="#000"/>
<path d="M175.46 239.01 l3.15 5.9 h-6.3 z" fill="#000"/>
<path d="M182.78 229.16 l3.15 5.9 h-6.3 z" fill="#000"/>
<path d="M188.28 181.35 l3.15 5.9 h-6.3 z" fill="#000"/>
<path d="M195.61 190.12 l3.15 5.9 h-6.3 z" fill="#000"/>
<path d="M201.1 225.24 l3.15 5.9 h-6.3 z" fill="#000"/>
<path d="M208.43 216.87 l3.15 5.9 h-6.3 z" fill="#000"/>
<path d="M213.92 172.97 l3.15 5.9 h-6.3 z" fill="#000"/>
<path d="M221.25 233.07 l3.15 5.9 h-6.3 z" fill="#000"/>
<path d="M226.75 226.72 l3.15 5.9 h-6.3 z" fill="#000"/>
<path d="M234.07 236.99 l3.15 5.9 h-6.3 z" fill="#000"/>
<path d="M239.57 223.48 l3.15 5.9 h-6.3 z" fill="#000"/>
<path d="M246.9 228.62 l3.15 5.9 h-6.3 z" fill="#000"/>
<path d="M252.39 236.04 l3.15 5.9 h-6.3 z" fill="#000"/>
<path d="M259.72 220.38 l3.15 5.9 h-6.3 z" fill="#000"/>
<path d="M265.21 197.96 l3.15 5.9 h-6.3 z" fill="#000"/>
<path d="M272.54 228.21 l3.15 5.9 h-6.3 z" fill="#000"/>
<path d="M278.04 222.4 l3.15 5.9 h-6.3 z" fill="#000"/>
<path d="M285.36 219.43 l3.15 5.9 h-6.3 z" fill="#000"/>
<path d="M290.86 197.96 l3.15 5.9 h-6.3 z" fill="#000"/>
<path d="M298.19 227.26 l3.15 5.9 h-6.3 z" fill="#000"/>
<path d="M303.68 236.99 l3.15 5.9 h-6.3 z" fill="#000"/>
<path d="M311.01 236.04 l3.15 5.9 h-6.3 z" fill="#000"/>
<path d="M316.5 227.26 l3.15 5.9 h-6.3 z" fill="#000"/>
<path d="M323.83 218.49 l3.15 5.9 h-6.3 z" fill="#000"/>
<path d="M329.33 232.13 l3.15 5.9 h-6.3 z" fill="#000"/>
<path d="M336.65 223.35 l3.15 5.9 h-6.3 z" fill="#000"/>
<path d="M342.15 204.85 l3.15 5.9 h-6.3 z" fill="#000"/>
<path d="M349.48 208.63 l3.15 5.9 h-6.3 z" fill="#000"/>
<path d="M354.97 212 l3.15 5.9 h-6.3 z" fill="#000"/>
<path d="M362.3 222.4 l3.15 5.9 h-6.3 z" fill="#000"/>
<path d="M367.79 227.81 l3.15 5.9 h-6.3 z" fill="#000"/>
<path d="M375.12 223.35 l3.15 5.9 h-6.3 z" fill="#000"/>
<path d="M380.62 201.87 l3.15 5.9 h-6.3 z" fill="#000"/>
<path d="M387.94 234.15 l3.15 5.9 h-6.3 z" fill="#000"/>
<path d="M393.44 216.87 l3.15 5.9 h-6.3 z" fill="#000"/>
<path d="M400.77 197.96 l3.15 5.9 h-6.3 z" fill="#000"/>
<path d="M406.26 225.37 l3.15 5.9 h-6.3 z" fill="#000"/>
<path d="M413.59 218.08 l3.15 5.9 h-6.3 z" fill="#000"/>
<path d="M419.08 228.62 l3.15 5.9 h-6.3 z" fill="#000"/>
<path d="M426.41 226.32 l3.15 5.9 h-6.3 z" fill="#000"/>
<path d="M439.23 240.5 l3.15 5.9 h-6.3 z" fill="#000"/>
<path d="M444.73 249.68 l3.15 5.9 h-6.3 z" fill="#000"/>
<path d="M452.06 248.2 l3.15 5.9 h-6.3 z" fill="#000"/>
<path d="M457.55 253.6 l3.15 5.9 h-6.3 z" fill="#000"/>
<path d="M464.88 256.03 l3.15 5.9 h-6.3 z" fill="#000"/>
<path d="M470.37 242.8 l3.15 5.9 h-6.3 z" fill="#000"/>
<path d="M477.7 251.71 l3.15 5.9 h-6.3 z" fill="#000"/>
<path d="M483.2 246.71 l3.15 5.9 h-6.3 z" fill="#000"/>
<path d="M496.02 235.5 l3.15 5.9 h-6.3 z" fill="#000"/>
<path d="M503.35 222.13 l3.15 5.9 h-6.3 z" fill="#000"/>
<path d="M508.84 263.73 l3.15 5.9 h-6.3 z" fill="#000"/>
<path d="M516.17 246.44 l3.15 5.9 h-6.3 z" fill="#000"/>
<path d="M521.66 224.7 l3.15 5.9 h-6.3 z" fill="#000"/>
<path d="M528.99 236.31 l3.15 5.9 h-6.3 z" fill="#000"/>
<path d="M534.49 244.01 l3.15 5.9 h-6.3 z" fill="#000"/>
<path d="M541.81 205.52 l3.15 5.9 h-6.3 z" fill="#000"/>
<path d="M547.31 174.59 l3.15 5.9 h-6.3 z" fill="#000"/>
<path d="M554.64 170.81 l3.15 5.9 h-6.3 z" fill="#000"/>
<path d="M560.13 232.4 l3.15 5.9 h-6.3 z" fill="#000"/>
<path d="M567.46 181.08 l3.15 5.9 h-6.3 z" fill="#000"/>
<path d="M572.95 173.92 l3.15 5.9 h-6.3 z" fill="#000"/>
<path d="M580.28 140.69 l3.15 5.9 h-6.3 z" fill="#000"/>
<path d="M585.78 127.19 l3.15 5.9 h-6.3 z" fill="#000"/>
<path d="M593.1 99.37 l3.15 5.9 h-6.3 z" fill="#000"/>
<path d="M605.92 204.44 l3.15 5.9 h-6.3 z" fill="#000"/>
<path d="M611.42 144.88 l3.15 5.9 h-6.3 z" fill="#000"/>
<path d="M618.75 211.19 l3.15 5.9 h-6.3 z" fill="#000"/>
<path d="M624.24 159.47 l3.15 5.9 h-6.3 z" fill="#000"/>
<path d="M631.57 118.55 l3.15 5.9 h-6.3 z" fill="#000"/>
<path d="M637.07 54.66 l3.15 5.9 h-6.3 z" fill="#000"/>
<path d="M644.39 129.62 l3.15 5.9 h-6.3 z" fill="#000"/>
<path d="M649.89 106.26 l3.15 5.9 h-6.3 z" fill="#000"/>
<path d="M657.21 181.62 l3.15 5.9 h-6.3 z" fill="#000"/>
<path d="M662.71 204.31 l3.15 5.9 h-6.3 z" fill="#000"/>
<path d="M670.04 159.74 l3.15 5.9 h-6.3 z" fill="#000"/>
<path d="M675.53 183.37 l3.15 5.9 h-6.3 z" fill="#000"/>
<path d="M682.86 200.52 l3.15 5.9 h-6.3 z" fill="#000"/>
<path d="M688.36 211.33 l3.15 5.9 h-6.3 z" fill="#000"/>
<path d="M695.68 144.88 l3.15 5.9 h-6.3 z" fill="#000"/>
<path d="M701.18 170.41 l3.15 5.9 h-6.3 z" fill="#000"/>
<path d="M706.67 184.59 l3.15 5.9 h-6.3 z" fill="#000"/>
<path d="M712.17 156.23 l3.15 5.9 h-6.3 z" fill="#000"/>
<rect x="120.3" y="25.6" width="174.6" height="66.9" fill="#fff" stroke="#333" stroke-width="0.9"/>
<line x1="126.4" x2="142.9" y1="37.1" y2="37.1" stroke="#404040" stroke-width="1.9"/>
<rect x="131.7" y="34.3" width="6.4" height="5.6" fill="#404040"/>
<text x="148.2" y="41" font-size="14.2">Gulokano (June 2019)</text>
<line x1="126.4" x2="142.9" y1="59.5" y2="59.5" stroke="#444" stroke-width="1.9" stroke-dasharray="0.8 0.75"/>
<circle cx="134.9" cy="59.5" r="2.95" fill="#404040"/>
<text x="148.2" y="63.3" font-size="14.2">Makenge (June 2019)</text>
<line x1="126.4" x2="133.9" y1="81.9" y2="81.9" stroke="#000" stroke-width="2"/>
<rect x="141" y="80.9" width="2" height="2" fill="#000"/>
<path d="M134.9 79.1 l2.95 5.7 h-5.9 z" fill="#000"/>
<text x="148.2" y="85.6" font-size="14.2">Pwomunu (control)</text>
<path d="M67 294.6 V306.5 H86.9 V294.6" fill="none" stroke="#222" stroke-width="0.9"/>
<path d="M67 289 l2.6 5.6 h-5.2 z" fill="#fff" stroke="#222" stroke-width="0.85" stroke-linejoin="miter"/>
<path d="M86.9 289 l2.6 5.6 h-5.2 z" fill="#fff" stroke="#222" stroke-width="0.85" stroke-linejoin="miter"/>
<text x="76.85" y="322.8" font-size="14" text-anchor="middle">slash</text>
<text transform="translate(12.3 144.75) rotate(-90)" font-size="14" text-anchor="middle">Daily Catch</text>
<text x="385.4" y="341.5" font-size="14" text-anchor="middle">Day</text>
<text x="2.6" y="15.6" font-size="21" font-weight="bold" fill="#000" stroke="none">A</text>
<rect x="45" y="345.9" width="669" height="243.1" fill="none" stroke="#7d7d7d" stroke-width="1.7"/>
<line x1="41.6" x2="45" y1="589" y2="589" stroke="#6a6a6a" stroke-width="0.9"/>
<text x="39.7" y="594" font-size="14" text-anchor="end">0</text>
<line x1="43.2" x2="45" y1="580.9" y2="580.9" stroke="#6a6a6a" stroke-width="0.7"/>
<line x1="43.2" x2="45" y1="572.79" y2="572.79" stroke="#6a6a6a" stroke-width="0.7"/>
<line x1="43.2" x2="45" y1="564.69" y2="564.69" stroke="#6a6a6a" stroke-width="0.7"/>
<line x1="43.2" x2="45" y1="556.59" y2="556.59" stroke="#6a6a6a" stroke-width="0.7"/>
<line x1="41.6" x2="45" y1="548.48" y2="548.48" stroke="#6a6a6a" stroke-width="0.9"/>
<text x="39.7" y="553.48" font-size="14" text-anchor="end">50</text>
<line x1="43.2" x2="45" y1="540.38" y2="540.38" stroke="#6a6a6a" stroke-width="0.7"/>
<line x1="43.2" x2="45" y1="532.28" y2="532.28" stroke="#6a6a6a" stroke-width="0.7"/>
<line x1="43.2" x2="45" y1="524.17" y2="524.17" stroke="#6a6a6a" stroke-width="0.7"/>
<line x1="43.2" x2="45" y1="516.07" y2="516.07" stroke="#6a6a6a" stroke-width="0.7"/>
<line x1="41.6" x2="45" y1="507.97" y2="507.97" stroke="#6a6a6a" stroke-width="0.9"/>
<text x="39.7" y="512.97" font-size="14" text-anchor="end">100</text>
<line x1="43.2" x2="45" y1="499.86" y2="499.86" stroke="#6a6a6a" stroke-width="0.7"/>
<line x1="43.2" x2="45" y1="491.76" y2="491.76" stroke="#6a6a6a" stroke-width="0.7"/>
<line x1="43.2" x2="45" y1="483.66" y2="483.66" stroke="#6a6a6a" stroke-width="0.7"/>
<line x1="43.2" x2="45" y1="475.55" y2="475.55" stroke="#6a6a6a" stroke-width="0.7"/>
<line x1="41.6" x2="45" y1="467.45" y2="467.45" stroke="#6a6a6a" stroke-width="0.9"/>
<text x="39.7" y="472.45" font-size="14" text-anchor="end">150</text>
<line x1="43.2" x2="45" y1="459.35" y2="459.35" stroke="#6a6a6a" stroke-width="0.7"/>
<line x1="43.2" x2="45" y1="451.24" y2="451.24" stroke="#6a6a6a" stroke-width="0.7"/>
<line x1="43.2" x2="45" y1="443.14" y2="443.14" stroke="#6a6a6a" stroke-width="0.7"/>
<line x1="43.2" x2="45" y1="435.04" y2="435.04" stroke="#6a6a6a" stroke-width="0.7"/>
<line x1="41.6" x2="45" y1="426.93" y2="426.93" stroke="#6a6a6a" stroke-width="0.9"/>
<text x="39.7" y="431.93" font-size="14" text-anchor="end">200</text>
<line x1="43.2" x2="45" y1="418.83" y2="418.83" stroke="#6a6a6a" stroke-width="0.7"/>
<line x1="43.2" x2="45" y1="410.73" y2="410.73" stroke="#6a6a6a" stroke-width="0.7"/>
<line x1="43.2" x2="45" y1="402.62" y2="402.62" stroke="#6a6a6a" stroke-width="0.7"/>
<line x1="43.2" x2="45" y1="394.52" y2="394.52" stroke="#6a6a6a" stroke-width="0.7"/>
<line x1="41.6" x2="45" y1="386.42" y2="386.42" stroke="#6a6a6a" stroke-width="0.9"/>
<text x="39.7" y="391.42" font-size="14" text-anchor="end">250</text>
<line x1="43.2" x2="45" y1="378.31" y2="378.31" stroke="#6a6a6a" stroke-width="0.7"/>
<line x1="43.2" x2="45" y1="370.21" y2="370.21" stroke="#6a6a6a" stroke-width="0.7"/>
<line x1="43.2" x2="45" y1="362.11" y2="362.11" stroke="#6a6a6a" stroke-width="0.7"/>
<line x1="43.2" x2="45" y1="354" y2="354" stroke="#6a6a6a" stroke-width="0.7"/>
<line x1="41.6" x2="45" y1="345.9" y2="345.9" stroke="#6a6a6a" stroke-width="0.9"/>
<text x="39.7" y="350.9" font-size="14" text-anchor="end">300</text>
<line x1="45" x2="45" y1="589" y2="592.4" stroke="#6a6a6a" stroke-width="0.9"/>
<text x="45" y="606.2" font-size="14" text-anchor="middle">0</text>
<line x1="63.33" x2="63.33" y1="589" y2="590.3" stroke="#6a6a6a" stroke-width="0.7"/>
<line x1="81.66" x2="81.66" y1="589" y2="590.3" stroke="#6a6a6a" stroke-width="0.7"/>
<line x1="99.99" x2="99.99" y1="589" y2="590.3" stroke="#6a6a6a" stroke-width="0.7"/>
<line x1="118.32" x2="118.32" y1="589" y2="590.3" stroke="#6a6a6a" stroke-width="0.7"/>
<line x1="136.64" x2="136.64" y1="589" y2="592.4" stroke="#6a6a6a" stroke-width="0.9"/>
<text x="136.64" y="606.2" font-size="14" text-anchor="middle">50</text>
<line x1="154.97" x2="154.97" y1="589" y2="590.3" stroke="#6a6a6a" stroke-width="0.7"/>
<line x1="173.3" x2="173.3" y1="589" y2="590.3" stroke="#6a6a6a" stroke-width="0.7"/>
<line x1="191.63" x2="191.63" y1="589" y2="590.3" stroke="#6a6a6a" stroke-width="0.7"/>
<line x1="209.96" x2="209.96" y1="589" y2="590.3" stroke="#6a6a6a" stroke-width="0.7"/>
<line x1="228.29" x2="228.29" y1="589" y2="592.4" stroke="#6a6a6a" stroke-width="0.9"/>
<text x="228.29" y="606.2" font-size="14" text-anchor="middle">100</text>
<line x1="246.62" x2="246.62" y1="589" y2="590.3" stroke="#6a6a6a" stroke-width="0.7"/>
<line x1="264.95" x2="264.95" y1="589" y2="590.3" stroke="#6a6a6a" stroke-width="0.7"/>
<line x1="283.27" x2="283.27" y1="589" y2="590.3" stroke="#6a6a6a" stroke-width="0.7"/>
<line x1="301.6" x2="301.6" y1="589" y2="590.3" stroke="#6a6a6a" stroke-width="0.7"/>
<line x1="319.93" x2="319.93" y1="589" y2="592.4" stroke="#6a6a6a" stroke-width="0.9"/>
<text x="319.93" y="606.2" font-size="14" text-anchor="middle">150</text>
<line x1="338.26" x2="338.26" y1="589" y2="590.3" stroke="#6a6a6a" stroke-width="0.7"/>
<line x1="356.59" x2="356.59" y1="589" y2="590.3" stroke="#6a6a6a" stroke-width="0.7"/>
<line x1="374.92" x2="374.92" y1="589" y2="590.3" stroke="#6a6a6a" stroke-width="0.7"/>
<line x1="393.25" x2="393.25" y1="589" y2="590.3" stroke="#6a6a6a" stroke-width="0.7"/>
<line x1="411.58" x2="411.58" y1="589" y2="592.4" stroke="#6a6a6a" stroke-width="0.9"/>
<text x="411.58" y="606.2" font-size="14" text-anchor="middle">200</text>
<line x1="429.9" x2="429.9" y1="589" y2="590.3" stroke="#6a6a6a" stroke-width="0.7"/>
<line x1="448.23" x2="448.23" y1="589" y2="590.3" stroke="#6a6a6a" stroke-width="0.7"/>
<line x1="466.56" x2="466.56" y1="589" y2="590.3" stroke="#6a6a6a" stroke-width="0.7"/>
<line x1="484.89" x2="484.89" y1="589" y2="590.3" stroke="#6a6a6a" stroke-width="0.7"/>
<line x1="503.22" x2="503.22" y1="589" y2="592.4" stroke="#6a6a6a" stroke-width="0.9"/>
<text x="503.22" y="606.2" font-size="14" text-anchor="middle">250</text>
<line x1="521.55" x2="521.55" y1="589" y2="590.3" stroke="#6a6a6a" stroke-width="0.7"/>
<line x1="539.88" x2="539.88" y1="589" y2="590.3" stroke="#6a6a6a" stroke-width="0.7"/>
<line x1="558.21" x2="558.21" y1="589" y2="590.3" stroke="#6a6a6a" stroke-width="0.7"/>
<line x1="576.53" x2="576.53" y1="589" y2="590.3" stroke="#6a6a6a" stroke-width="0.7"/>
<line x1="594.86" x2="594.86" y1="589" y2="592.4" stroke="#6a6a6a" stroke-width="0.9"/>
<text x="594.86" y="606.2" font-size="14" text-anchor="middle">300</text>
<line x1="613.19" x2="613.19" y1="589" y2="590.3" stroke="#6a6a6a" stroke-width="0.7"/>
<line x1="631.52" x2="631.52" y1="589" y2="590.3" stroke="#6a6a6a" stroke-width="0.7"/>
<line x1="649.85" x2="649.85" y1="589" y2="590.3" stroke="#6a6a6a" stroke-width="0.7"/>
<line x1="668.18" x2="668.18" y1="589" y2="590.3" stroke="#6a6a6a" stroke-width="0.7"/>
<line x1="686.51" x2="686.51" y1="589" y2="592.4" stroke="#6a6a6a" stroke-width="0.9"/>
<text x="686.51" y="606.2" font-size="14" text-anchor="middle">350</text>
<line x1="704.84" x2="704.84" y1="589" y2="590.3" stroke="#6a6a6a" stroke-width="0.7"/>
<path d="M46.83 408.3 L48.67 432.61 L50.5 477.17 L52.33 381.07 L54.16 471.5 L56 501.81 L57.83 478.79 L65.16 401 L77.99 400.19 L79.82 483.66 L81.66 464.53 L83.49 445.57 L85.32 424.75 L90.82 512.02 L99.99 454.48 L105.48 498.24 L112.82 500.67 L118.32 493.38 L123.81 506.35 L131.15 509.59 L136.64 492 L143.98 561.45 L149.47 515.26 L156.81 551.89 L162.3 515.66 L169.64 529.04 L175.13 533.65 L182.47 549.29 L187.96 549.29 L195.3 532.52 L200.79 523.12 L208.13 553.02 L213.62 540.38 L220.96 553.99 L226.45 565.66 L233.79 515.91 L239.28 548.08 L246.62 561.77 L252.12 539.33 L259.45 543.22 L264.95 547.11 L272.28 555.94 L277.78 555.94 L285.11 570.61 L290.61 545.73 L297.94 540.14 L303.44 524.66 L310.77 570.61 L316.27 572.55 L323.6 561.77 L329.1 569.55 L336.43 548.08 L341.93 571.58 L349.26 555.94 L354.76 556.91 L362.09 567.61 L367.59 575.47 L374.92 586.57 L380.42 587.93 L387.75 588.56 L393.25 587.95 L400.58 587.41 L406.08 587.55 L413.41 587.75 L418.91 588.28 L426.24 588.15 L439.07 588.39 L444.57 587.66 L451.9 587.95 L457.4 587.65 L464.73 588.19 L470.23 588.32 L477.56 587.61 L483.06 587.4 L495.89 587.56 L503.22 587.62 L508.72 587.6 L516.05 587.7 L521.55 588.32 L528.88 587.97 L534.38 586.4 L541.71 586.93 L547.21 586.93 L554.54 586.52 L560.04 586.55 L567.37 585.85 L572.87 585.42 L580.2 586.25 L585.7 585.46 L593.03 585.37 L605.86 585.43 L611.36 586.38 L618.69 584.5 L624.19 584.49 L631.52 584.55 L637.02 584.53 L644.35 583.68 L649.85 580.9 L657.18 583.25 L662.68 586.2 L670.01 585.92 L675.51 585.68 L682.84 586.84 L688.34 585.9 L695.67 585.5 L701.17 585.71 L706.67 585.76 L712.17 583.73" fill="none" stroke="#404040" stroke-width="1.8" stroke-linejoin="round"/>
<rect x="43.83" y="405.5" width="6" height="5.6" fill="#404040"/>
<rect x="45.67" y="429.81" width="6" height="5.6" fill="#404040"/>
<rect x="47.5" y="474.37" width="6" height="5.6" fill="#404040"/>
<rect x="49.33" y="378.27" width="6" height="5.6" fill="#404040"/>
<rect x="51.16" y="468.7" width="6" height="5.6" fill="#404040"/>
<rect x="53" y="499.01" width="6" height="5.6" fill="#404040"/>
<rect x="54.83" y="475.99" width="6" height="5.6" fill="#404040"/>
<rect x="62.16" y="398.2" width="6" height="5.6" fill="#404040"/>
<rect x="74.99" y="397.39" width="6" height="5.6" fill="#404040"/>
<rect x="76.82" y="480.86" width="6" height="5.6" fill="#404040"/>
<rect x="78.66" y="461.73" width="6" height="5.6" fill="#404040"/>
<rect x="80.49" y="442.77" width="6" height="5.6" fill="#404040"/>
<rect x="82.32" y="421.95" width="6" height="5.6" fill="#404040"/>
<rect x="87.82" y="509.22" width="6" height="5.6" fill="#404040"/>
<rect x="96.99" y="451.68" width="6" height="5.6" fill="#404040"/>
<rect x="102.48" y="495.44" width="6" height="5.6" fill="#404040"/>
<rect x="109.82" y="497.87" width="6" height="5.6" fill="#404040"/>
<rect x="115.32" y="490.58" width="6" height="5.6" fill="#404040"/>
<rect x="120.81" y="503.55" width="6" height="5.6" fill="#404040"/>
<rect x="128.15" y="506.79" width="6" height="5.6" fill="#404040"/>
<rect x="133.64" y="489.2" width="6" height="5.6" fill="#404040"/>
<rect x="140.98" y="558.65" width="6" height="5.6" fill="#404040"/>
<rect x="146.47" y="512.46" width="6" height="5.6" fill="#404040"/>
<rect x="153.81" y="549.09" width="6" height="5.6" fill="#404040"/>
<rect x="159.3" y="512.86" width="6" height="5.6" fill="#404040"/>
<rect x="166.64" y="526.24" width="6" height="5.6" fill="#404040"/>
<rect x="172.13" y="530.85" width="6" height="5.6" fill="#404040"/>
<rect x="179.47" y="546.49" width="6" height="5.6" fill="#404040"/>
<rect x="184.96" y="546.49" width="6" height="5.6" fill="#404040"/>
<rect x="192.3" y="529.72" width="6" height="5.6" fill="#404040"/>
<rect x="197.79" y="520.32" width="6" height="5.6" fill="#404040"/>
<rect x="205.13" y="550.22" width="6" height="5.6" fill="#404040"/>
<rect x="210.62" y="537.58" width="6" height="5.6" fill="#404040"/>
<rect x="217.96" y="551.19" width="6" height="5.6" fill="#404040"/>
<rect x="223.45" y="562.86" width="6" height="5.6" fill="#404040"/>
<rect x="230.79" y="513.11" width="6" height="5.6" fill="#404040"/>
<rect x="236.28" y="545.28" width="6" height="5.6" fill="#404040"/>
<rect x="243.62" y="558.97" width="6" height="5.6" fill="#404040"/>
<rect x="249.12" y="536.53" width="6" height="5.6" fill="#404040"/>
<rect x="256.45" y="540.42" width="6" height="5.6" fill="#404040"/>
<rect x="261.95" y="544.31" width="6" height="5.6" fill="#404040"/>
<rect x="269.28" y="553.14" width="6" height="5.6" fill="#404040"/>
<rect x="274.78" y="553.14" width="6" height="5.6" fill="#404040"/>
<rect x="282.11" y="567.81" width="6" height="5.6" fill="#404040"/>
<rect x="287.61" y="542.93" width="6" height="5.6" fill="#404040"/>
<rect x="294.94" y="537.34" width="6" height="5.6" fill="#404040"/>
<rect x="300.44" y="521.86" width="6" height="5.6" fill="#404040"/>
<rect x="307.77" y="567.81" width="6" height="5.6" fill="#404040"/>
<rect x="313.27" y="569.75" width="6" height="5.6" fill="#404040"/>
<rect x="320.6" y="558.97" width="6" height="5.6" fill="#404040"/>
<rect x="326.1" y="566.75" width="6" height="5.6" fill="#404040"/>
<rect x="333.43" y="545.28" width="6" height="5.6" fill="#404040"/>
<rect x="338.93" y="568.78" width="6" height="5.6" fill="#404040"/>
<rect x="346.26" y="553.14" width="6" height="5.6" fill="#404040"/>
<rect x="351.76" y="554.11" width="6" height="5.6" fill="#404040"/>
<rect x="359.09" y="564.81" width="6" height="5.6" fill="#404040"/>
<rect x="364.59" y="572.67" width="6" height="5.6" fill="#404040"/>
<rect x="371.92" y="583.77" width="6" height="5.6" fill="#404040"/>
<rect x="377.42" y="585.13" width="6" height="5.6" fill="#404040"/>
<rect x="384.75" y="585.76" width="6" height="5.6" fill="#404040"/>
<rect x="390.25" y="585.15" width="6" height="5.6" fill="#404040"/>
<rect x="397.58" y="584.61" width="6" height="5.6" fill="#404040"/>
<rect x="403.08" y="584.75" width="6" height="5.6" fill="#404040"/>
<rect x="410.41" y="584.95" width="6" height="5.6" fill="#404040"/>
<rect x="415.91" y="585.48" width="6" height="5.6" fill="#404040"/>
<rect x="423.24" y="585.35" width="6" height="5.6" fill="#404040"/>
<rect x="436.07" y="585.59" width="6" height="5.6" fill="#404040"/>
<rect x="441.57" y="584.86" width="6" height="5.6" fill="#404040"/>
<rect x="448.9" y="585.15" width="6" height="5.6" fill="#404040"/>
<rect x="454.4" y="584.85" width="6" height="5.6" fill="#404040"/>
<rect x="461.73" y="585.39" width="6" height="5.6" fill="#404040"/>
<rect x="467.23" y="585.52" width="6" height="5.6" fill="#404040"/>
<rect x="474.56" y="584.81" width="6" height="5.6" fill="#404040"/>
<rect x="480.06" y="584.6" width="6" height="5.6" fill="#404040"/>
<rect x="492.89" y="584.76" width="6" height="5.6" fill="#404040"/>
<rect x="500.22" y="584.82" width="6" height="5.6" fill="#404040"/>
<rect x="505.72" y="584.8" width="6" height="5.6" fill="#404040"/>
<rect x="513.05" y="584.9" width="6" height="5.6" fill="#404040"/>
<rect x="518.55" y="585.52" width="6" height="5.6" fill="#404040"/>
<rect x="525.88" y="585.17" width="6" height="5.6" fill="#404040"/>
<rect x="531.38" y="583.6" width="6" height="5.6" fill="#404040"/>
<rect x="538.71" y="584.13" width="6" height="5.6" fill="#404040"/>
<rect x="544.21" y="584.13" width="6" height="5.6" fill="#404040"/>
<rect x="551.54" y="583.72" width="6" height="5.6" fill="#404040"/>
<rect x="557.04" y="583.75" width="6" height="5.6" fill="#404040"/>
<rect x="564.37" y="583.05" width="6" height="5.6" fill="#404040"/>
<rect x="569.87" y="582.62" width="6" height="5.6" fill="#404040"/>
<rect x="577.2" y="583.45" width="6" height="5.6" fill="#404040"/>
<rect x="582.7" y="582.66" width="6" height="5.6" fill="#404040"/>
<rect x="590.03" y="582.57" width="6" height="5.6" fill="#404040"/>
<rect x="602.86" y="582.63" width="6" height="5.6" fill="#404040"/>
<rect x="608.36" y="583.58" width="6" height="5.6" fill="#404040"/>
<rect x="615.69" y="581.7" width="6" height="5.6" fill="#404040"/>
<rect x="621.19" y="581.69" width="6" height="5.6" fill="#404040"/>
<rect x="628.52" y="581.75" width="6" height="5.6" fill="#404040"/>
<rect x="634.02" y="581.73" width="6" height="5.6" fill="#404040"/>
<rect x="641.35" y="580.88" width="6" height="5.6" fill="#404040"/>
<rect x="646.85" y="578.1" width="6" height="5.6" fill="#404040"/>
<rect x="654.18" y="580.45" width="6" height="5.6" fill="#404040"/>
<rect x="659.68" y="583.4" width="6" height="5.6" fill="#404040"/>
<rect x="667.01" y="583.12" width="6" height="5.6" fill="#404040"/>
<rect x="672.51" y="582.88" width="6" height="5.6" fill="#404040"/>
<rect x="679.84" y="584.04" width="6" height="5.6" fill="#404040"/>
<rect x="685.34" y="583.1" width="6" height="5.6" fill="#404040"/>
<rect x="692.67" y="582.7" width="6" height="5.6" fill="#404040"/>
<rect x="698.17" y="582.91" width="6" height="5.6" fill="#404040"/>
<rect x="703.67" y="582.96" width="6" height="5.6" fill="#404040"/>
<rect x="709.17" y="580.93" width="6" height="5.6" fill="#404040"/>
<path d="M46.83 490.14 L48.67 491.76 L50.5 493.38 L52.33 495.81 L54.16 498.24 L56 497.43 L57.83 494.19 L65.16 489.33 L77.99 472.31 L79.82 475.55 L81.66 459.35 L83.49 466.64 L85.32 467.45 L90.82 507.97 L99.99 474.74 L105.48 509.59 L112.82 517.69 L118.32 499.46 L123.81 556.99 L131.15 550.1 L136.64 509.59 L143.98 499.22 L149.47 484.55 L156.81 542.89 L162.3 522.55 L169.64 526.36 L175.13 531.47 L182.47 523.69 L187.96 535.44 L195.3 539.33 L200.79 528.63 L208.13 551.72 L213.62 517.45 L220.96 565.1 L226.45 534.46 L233.79 560.23 L239.28 535.44 L246.62 573.12 L252.12 569.55 L259.45 556.91 L264.95 548.48 L272.28 554.97 L277.78 515.26 L285.11 556.91 L290.61 571.58 L297.94 553.02 L303.44 544.19 L310.77 563.72 L316.27 579.36 L323.6 562.75 L329.1 561.77 L336.43 568.58 L341.93 563.72 L349.26 561.45 L354.76 572.55 L362.09 575.47 L367.59 577.01 L374.92 587.14 L380.42 588.01 L387.75 588.38 L393.25 587.64 L400.58 588.19 L406.08 587.62 L413.41 587.41 L418.91 588.11 L426.24 588.11 L439.07 587.44 L444.57 587.71 L451.9 588.39 L457.4 588.44 L464.73 588.41 L470.23 587.49 L477.56 587.61 L483.06 588.42 L495.89 587.59 L503.22 587.4 L508.72 587.8 L516.05 588.17 L521.55 587.93 L528.88 588.44 L534.38 586.95 L541.71 585.4 L547.21 585.92 L554.54 586.12 L560.04 585.46 L567.37 586.27 L572.87 585.56 L580.2 585.64 L585.7 586.63 L593.03 586.57 L605.86 586.5 L611.36 586.58 L618.69 584.17 L624.19 584.83 L631.52 584.5 L637.02 585.09 L644.35 583.51 L649.85 584.64 L657.18 584.43 L662.68 586.03 L670.01 585.51 L675.51 586.29 L682.84 585.49 L688.34 586.16 L695.67 586.11 L701.17 586.13 L706.67 586.94 L712.17 584.95" fill="none" stroke="#444" stroke-width="1.8" stroke-dasharray="0.8 0.75"/>
<circle cx="46.83" cy="490.14" r="2.95" fill="#404040"/>
<circle cx="48.67" cy="491.76" r="2.95" fill="#404040"/>
<circle cx="50.5" cy="493.38" r="2.95" fill="#404040"/>
<circle cx="52.33" cy="495.81" r="2.95" fill="#404040"/>
<circle cx="54.16" cy="498.24" r="2.95" fill="#404040"/>
<circle cx="56" cy="497.43" r="2.95" fill="#404040"/>
<circle cx="57.83" cy="494.19" r="2.95" fill="#404040"/>
<circle cx="65.16" cy="489.33" r="2.95" fill="#404040"/>
<circle cx="77.99" cy="472.31" r="2.95" fill="#404040"/>
<circle cx="79.82" cy="475.55" r="2.95" fill="#404040"/>
<circle cx="81.66" cy="459.35" r="2.95" fill="#404040"/>
<circle cx="83.49" cy="466.64" r="2.95" fill="#404040"/>
<circle cx="85.32" cy="467.45" r="2.95" fill="#404040"/>
<circle cx="90.82" cy="507.97" r="2.95" fill="#404040"/>
<circle cx="99.99" cy="474.74" r="2.95" fill="#404040"/>
<circle cx="105.48" cy="509.59" r="2.95" fill="#404040"/>
<circle cx="112.82" cy="517.69" r="2.95" fill="#404040"/>
<circle cx="118.32" cy="499.46" r="2.95" fill="#404040"/>
<circle cx="123.81" cy="556.99" r="2.95" fill="#404040"/>
<circle cx="131.15" cy="550.1" r="2.95" fill="#404040"/>
<circle cx="136.64" cy="509.59" r="2.95" fill="#404040"/>
<circle cx="143.98" cy="499.22" r="2.95" fill="#404040"/>
<circle cx="149.47" cy="484.55" r="2.95" fill="#404040"/>
<circle cx="156.81" cy="542.89" r="2.95" fill="#404040"/>
<circle cx="162.3" cy="522.55" r="2.95" fill="#404040"/>
<circle cx="169.64" cy="526.36" r="2.95" fill="#404040"/>
<circle cx="175.13" cy="531.47" r="2.95" fill="#404040"/>
<circle cx="182.47" cy="523.69" r="2.95" fill="#404040"/>
<circle cx="187.96" cy="535.44" r="2.95" fill="#404040"/>
<circle cx="195.3" cy="539.33" r="2.95" fill="#404040"/>
<circle cx="200.79" cy="528.63" r="2.95" fill="#404040"/>
<circle cx="208.13" cy="551.72" r="2.95" fill="#404040"/>
<circle cx="213.62" cy="517.45" r="2.95" fill="#404040"/>
<circle cx="220.96" cy="565.1" r="2.95" fill="#404040"/>
<circle cx="226.45" cy="534.46" r="2.95" fill="#404040"/>
<circle cx="233.79" cy="560.23" r="2.95" fill="#404040"/>
<circle cx="239.28" cy="535.44" r="2.95" fill="#404040"/>
<circle cx="246.62" cy="573.12" r="2.95" fill="#404040"/>
<circle cx="252.12" cy="569.55" r="2.95" fill="#404040"/>
<circle cx="259.45" cy="556.91" r="2.95" fill="#404040"/>
<circle cx="264.95" cy="548.48" r="2.95" fill="#404040"/>
<circle cx="272.28" cy="554.97" r="2.95" fill="#404040"/>
<circle cx="277.78" cy="515.26" r="2.95" fill="#404040"/>
<circle cx="285.11" cy="556.91" r="2.95" fill="#404040"/>
<circle cx="290.61" cy="571.58" r="2.95" fill="#404040"/>
<circle cx="297.94" cy="553.02" r="2.95" fill="#404040"/>
<circle cx="303.44" cy="544.19" r="2.95" fill="#404040"/>
<circle cx="310.77" cy="563.72" r="2.95" fill="#404040"/>
<circle cx="316.27" cy="579.36" r="2.95" fill="#404040"/>
<circle cx="323.6" cy="562.75" r="2.95" fill="#404040"/>
<circle cx="329.1" cy="561.77" r="2.95" fill="#404040"/>
<circle cx="336.43" cy="568.58" r="2.95" fill="#404040"/>
<circle cx="341.93" cy="563.72" r="2.95" fill="#404040"/>
<circle cx="349.26" cy="561.45" r="2.95" fill="#404040"/>
<circle cx="354.76" cy="572.55" r="2.95" fill="#404040"/>
<circle cx="362.09" cy="575.47" r="2.95" fill="#404040"/>
<circle cx="367.59" cy="577.01" r="2.95" fill="#404040"/>
<circle cx="374.92" cy="587.14" r="2.95" fill="#404040"/>
<circle cx="380.42" cy="588.01" r="2.95" fill="#404040"/>
<circle cx="387.75" cy="588.38" r="2.95" fill="#404040"/>
<circle cx="393.25" cy="587.64" r="2.95" fill="#404040"/>
<circle cx="400.58" cy="588.19" r="2.95" fill="#404040"/>
<circle cx="406.08" cy="587.62" r="2.95" fill="#404040"/>
<circle cx="413.41" cy="587.41" r="2.95" fill="#404040"/>
<circle cx="418.91" cy="588.11" r="2.95" fill="#404040"/>
<circle cx="426.24" cy="588.11" r="2.95" fill="#404040"/>
<circle cx="439.07" cy="587.44" r="2.95" fill="#404040"/>
<circle cx="444.57" cy="587.71" r="2.95" fill="#404040"/>
<circle cx="451.9" cy="588.39" r="2.95" fill="#404040"/>
<circle cx="457.4" cy="588.44" r="2.95" fill="#404040"/>
<circle cx="464.73" cy="588.41" r="2.95" fill="#404040"/>
<circle cx="470.23" cy="587.49" r="2.95" fill="#404040"/>
<circle cx="477.56" cy="587.61" r="2.95" fill="#404040"/>
<circle cx="483.06" cy="588.42" r="2.95" fill="#404040"/>
<circle cx="495.89" cy="587.59" r="2.95" fill="#404040"/>
<circle cx="503.22" cy="587.4" r="2.95" fill="#404040"/>
<circle cx="508.72" cy="587.8" r="2.95" fill="#404040"/>
<circle cx="516.05" cy="588.17" r="2.95" fill="#404040"/>
<circle cx="521.55" cy="587.93" r="2.95" fill="#404040"/>
<circle cx="528.88" cy="588.44" r="2.95" fill="#404040"/>
<circle cx="534.38" cy="586.95" r="2.95" fill="#404040"/>
<circle cx="541.71" cy="585.4" r="2.95" fill="#404040"/>
<circle cx="547.21" cy="585.92" r="2.95" fill="#404040"/>
<circle cx="554.54" cy="586.12" r="2.95" fill="#404040"/>
<circle cx="560.04" cy="585.46" r="2.95" fill="#404040"/>
<circle cx="567.37" cy="586.27" r="2.95" fill="#404040"/>
<circle cx="572.87" cy="585.56" r="2.95" fill="#404040"/>
<circle cx="580.2" cy="585.64" r="2.95" fill="#404040"/>
<circle cx="585.7" cy="586.63" r="2.95" fill="#404040"/>
<circle cx="593.03" cy="586.57" r="2.95" fill="#404040"/>
<circle cx="605.86" cy="586.5" r="2.95" fill="#404040"/>
<circle cx="611.36" cy="586.58" r="2.95" fill="#404040"/>
<circle cx="618.69" cy="584.17" r="2.95" fill="#404040"/>
<circle cx="624.19" cy="584.83" r="2.95" fill="#404040"/>
<circle cx="631.52" cy="584.5" r="2.95" fill="#404040"/>
<circle cx="637.02" cy="585.09" r="2.95" fill="#404040"/>
<circle cx="644.35" cy="583.51" r="2.95" fill="#404040"/>
<circle cx="649.85" cy="584.64" r="2.95" fill="#404040"/>
<circle cx="657.18" cy="584.43" r="2.95" fill="#404040"/>
<circle cx="662.68" cy="586.03" r="2.95" fill="#404040"/>
<circle cx="670.01" cy="585.51" r="2.95" fill="#404040"/>
<circle cx="675.51" cy="586.29" r="2.95" fill="#404040"/>
<circle cx="682.84" cy="585.49" r="2.95" fill="#404040"/>
<circle cx="688.34" cy="586.16" r="2.95" fill="#404040"/>
<circle cx="695.67" cy="586.11" r="2.95" fill="#404040"/>
<circle cx="701.17" cy="586.13" r="2.95" fill="#404040"/>
<circle cx="706.67" cy="586.94" r="2.95" fill="#404040"/>
<circle cx="712.17" cy="584.95" r="2.95" fill="#404040"/>
<path d="M46.83 490.95 L48.67 456.92 L50.5 468.26 L52.33 450.43 L54.16 500.67 L56 472.31 L57.83 485.28 L65.16 451.24 L77.99 502.29 L79.82 495 L81.66 488.52 L83.49 499.05 L85.32 494.19 L90.82 487.71 L99.99 509.59 L105.48 520.12 L112.82 507.97 L118.32 527.41 L123.81 578.71 L131.15 569.88 L136.64 571.33 L143.98 571.66 L149.47 577.49 L156.81 578.71 L162.3 568.26 L169.64 567.45 L175.13 574.01 L182.47 568.09 L187.96 539.41 L195.3 544.67 L200.79 565.74 L208.13 560.72 L213.62 534.38 L220.96 570.44 L226.45 566.63 L233.79 572.79 L239.28 564.69 L246.62 567.77 L252.12 572.23 L259.45 562.83 L264.95 549.37 L272.28 567.53 L277.78 564.04 L285.11 562.26 L290.61 549.37 L297.94 566.96 L303.44 572.79 L310.77 572.23 L316.27 566.96 L323.6 561.69 L329.1 569.88 L336.43 564.61 L341.93 553.51 L349.26 555.78 L354.76 557.8 L362.09 564.04 L367.59 567.28 L374.92 564.61 L380.42 551.72 L387.75 571.09 L393.25 560.72 L400.58 549.37 L406.08 565.82 L413.41 561.45 L418.91 567.77 L426.24 566.39 L439.07 574.9 L444.57 580.41 L451.9 579.52 L457.4 582.76 L464.73 584.22 L470.23 576.28 L477.56 581.63 L483.06 578.63 L495.89 571.9 L503.22 563.88 L508.72 588.84 L516.05 578.47 L521.55 565.42 L528.88 572.39 L534.38 577.01 L541.71 553.91 L547.21 535.36 L554.54 533.09 L560.04 570.04 L567.37 539.25 L572.87 534.95 L580.2 515.02 L585.7 506.91 L593.03 490.22 L605.86 553.26 L611.36 517.53 L618.69 557.32 L624.19 526.28 L631.52 501.73 L637.02 463.4 L644.35 508.37 L649.85 494.35 L657.18 539.57 L662.68 553.18 L670.01 526.44 L675.51 540.62 L682.84 550.91 L688.34 557.4 L695.67 517.53 L701.17 532.84 L706.67 541.35 L712.17 524.34" fill="none" stroke="#000" stroke-width="2.05" stroke-dasharray="8.6 5.9"/>
<path d="M46.83 487.65 l3.15 5.9 h-6.3 z" fill="#000"/>
<path d="M48.67 453.62 l3.15 5.9 h-6.3 z" fill="#000"/>
<path d="M50.5 464.96 l3.15 5.9 h-6.3 z" fill="#000"/>
<path d="M52.33 447.13 l3.15 5.9 h-6.3 z" fill="#000"/>
<path d="M54.16 497.37 l3.15 5.9 h-6.3 z" fill="#000"/>
<path d="M56 469.01 l3.15 5.9 h-6.3 z" fill="#000"/>
<path d="M57.83 481.98 l3.15 5.9 h-6.3 z" fill="#000"/>
<path d="M65.16 447.94 l3.15 5.9 h-6.3 z" fill="#000"/>
<path d="M77.99 498.99 l3.15 5.9 h-6.3 z" fill="#000"/>
<path d="M79.82 491.7 l3.15 5.9 h-6.3 z" fill="#000"/>
<path d="M81.66 485.22 l3.15 5.9 h-6.3 z" fill="#000"/>
<path d="M83.49 495.75 l3.15 5.9 h-6.3 z" fill="#000"/>
<path d="M85.32 490.89 l3.15 5.9 h-6.3 z" fill="#000"/>
<path d="M90.82 484.41 l3.15 5.9 h-6.3 z" fill="#000"/>
<path d="M99.99 506.29 l3.15 5.9 h-6.3 z" fill="#000"/>
<path d="M105.48 516.82 l3.15 5.9 h-6.3 z" fill="#000"/>
<path d="M112.82 504.67 l3.15 5.9 h-6.3 z" fill="#000"/>
<path d="M118.32 524.11 l3.15 5.9 h-6.3 z" fill="#000"/>
<path d="M123.81 575.41 l3.15 5.9 h-6.3 z" fill="#000"/>
<path d="M131.15 566.58 l3.15 5.9 h-6.3 z" fill="#000"/>
<path d="M136.64 568.03 l3.15 5.9 h-6.3 z" fill="#000"/>
<path d="M143.98 568.36 l3.15 5.9 h-6.3 z" fill="#000"/>
<path d="M149.47 574.19 l3.15 5.9 h-6.3 z" fill="#000"/>
<path d="M156.81 575.41 l3.15 5.9 h-6.3 z" fill="#000"/>
<path d="M162.3 564.96 l3.15 5.9 h-6.3 z" fill="#000"/>
<path d="M169.64 564.15 l3.15 5.9 h-6.3 z" fill="#000"/>
<path d="M175.13 570.71 l3.15 5.9 h-6.3 z" fill="#000"/>
<path d="M182.47 564.79 l3.15 5.9 h-6.3 z" fill="#000"/>
<path d="M187.96 536.11 l3.15 5.9 h-6.3 z" fill="#000"/>
<path d="M195.3 541.37 l3.15 5.9 h-6.3 z" fill="#000"/>
<path d="M200.79 562.44 l3.15 5.9 h-6.3 z" fill="#000"/>
<path d="M208.13 557.42 l3.15 5.9 h-6.3 z" fill="#000"/>
<path d="M213.62 531.08 l3.15 5.9 h-6.3 z" fill="#000"/>
<path d="M220.96 567.14 l3.15 5.9 h-6.3 z" fill="#000"/>
<path d="M226.45 563.33 l3.15 5.9 h-6.3 z" fill="#000"/>
<path d="M233.79 569.49 l3.15 5.9 h-6.3 z" fill="#000"/>
<path d="M239.28 561.39 l3.15 5.9 h-6.3 z" fill="#000"/>
<path d="M246.62 564.47 l3.15 5.9 h-6.3 z" fill="#000"/>
<path d="M252.12 568.93 l3.15 5.9 h-6.3 z" fill="#000"/>
<path d="M259.45 559.53 l3.15 5.9 h-6.3 z" fill="#000"/>
<path d="M264.95 546.07 l3.15 5.9 h-6.3 z" fill="#000"/>
<path d="M272.28 564.23 l3.15 5.9 h-6.3 z" fill="#000"/>
<path d="M277.78 560.74 l3.15 5.9 h-6.3 z" fill="#000"/>
<path d="M285.11 558.96 l3.15 5.9 h-6.3 z" fill="#000"/>
<path d="M290.61 546.07 l3.15 5.9 h-6.3 z" fill="#000"/>
<path d="M297.94 563.66 l3.15 5.9 h-6.3 z" fill="#000"/>
<path d="M303.44 569.49 l3.15 5.9 h-6.3 z" fill="#000"/>
<path d="M310.77 568.93 l3.15 5.9 h-6.3 z" fill="#000"/>
<path d="M316.27 563.66 l3.15 5.9 h-6.3 z" fill="#000"/>
<path d="M323.6 558.39 l3.15 5.9 h-6.3 z" fill="#000"/>
<path d="M329.1 566.58 l3.15 5.9 h-6.3 z" fill="#000"/>
<path d="M336.43 561.31 l3.15 5.9 h-6.3 z" fill="#000"/>
<path d="M341.93 550.21 l3.15 5.9 h-6.3 z" fill="#000"/>
<path d="M349.26 552.48 l3.15 5.9 h-6.3 z" fill="#000"/>
<path d="M354.76 554.5 l3.15 5.9 h-6.3 z" fill="#000"/>
<path d="M362.09 560.74 l3.15 5.9 h-6.3 z" fill="#000"/>
<path d="M367.59 563.98 l3.15 5.9 h-6.3 z" fill="#000"/>
<path d="M374.92 561.31 l3.15 5.9 h-6.3 z" fill="#000"/>
<path d="M380.42 548.42 l3.15 5.9 h-6.3 z" fill="#000"/>
<path d="M387.75 567.79 l3.15 5.9 h-6.3 z" fill="#000"/>
<path d="M393.25 557.42 l3.15 5.9 h-6.3 z" fill="#000"/>
<path d="M400.58 546.07 l3.15 5.9 h-6.3 z" fill="#000"/>
<path d="M406.08 562.52 l3.15 5.9 h-6.3 z" fill="#000"/>
<path d="M413.41 558.15 l3.15 5.9 h-6.3 z" fill="#000"/>
<path d="M418.91 564.47 l3.15 5.9 h-6.3 z" fill="#000"/>
<path d="M426.24 563.09 l3.15 5.9 h-6.3 z" fill="#000"/>
<path d="M439.07 571.6 l3.15 5.9 h-6.3 z" fill="#000"/>
<path d="M444.57 577.11 l3.15 5.9 h-6.3 z" fill="#000"/>
<path d="M451.9 576.22 l3.15 5.9 h-6.3 z" fill="#000"/>
<path d="M457.4 579.46 l3.15 5.9 h-6.3 z" fill="#000"/>
<path d="M464.73 580.92 l3.15 5.9 h-6.3 z" fill="#000"/>
<path d="M470.23 572.98 l3.15 5.9 h-6.3 z" fill="#000"/>
<path d="M477.56 578.33 l3.15 5.9 h-6.3 z" fill="#000"/>
<path d="M483.06 575.33 l3.15 5.9 h-6.3 z" fill="#000"/>
<path d="M495.89 568.6 l3.15 5.9 h-6.3 z" fill="#000"/>
<path d="M503.22 560.58 l3.15 5.9 h-6.3 z" fill="#000"/>
<path d="M508.72 585.54 l3.15 5.9 h-6.3 z" fill="#000"/>
<path d="M516.05 575.17 l3.15 5.9 h-6.3 z" fill="#000"/>
<path d="M521.55 562.12 l3.15 5.9 h-6.3 z" fill="#000"/>
<path d="M528.88 569.09 l3.15 5.9 h-6.3 z" fill="#000"/>
<path d="M534.38 573.71 l3.15 5.9 h-6.3 z" fill="#000"/>
<path d="M541.71 550.61 l3.15 5.9 h-6.3 z" fill="#000"/>
<path d="M547.21 532.06 l3.15 5.9 h-6.3 z" fill="#000"/>
<path d="M554.54 529.79 l3.15 5.9 h-6.3 z" fill="#000"/>
<path d="M560.04 566.74 l3.15 5.9 h-6.3 z" fill="#000"/>
<path d="M567.37 535.95 l3.15 5.9 h-6.3 z" fill="#000"/>
<path d="M572.87 531.65 l3.15 5.9 h-6.3 z" fill="#000"/>
<path d="M580.2 511.72 l3.15 5.9 h-6.3 z" fill="#000"/>
<path d="M585.7 503.61 l3.15 5.9 h-6.3 z" fill="#000"/>
<path d="M593.03 486.92 l3.15 5.9 h-6.3 z" fill="#000"/>
<path d="M605.86 549.96 l3.15 5.9 h-6.3 z" fill="#000"/>
<path d="M611.36 514.23 l3.15 5.9 h-6.3 z" fill="#000"/>
<path d="M618.69 554.02 l3.15 5.9 h-6.3 z" fill="#000"/>
<path d="M624.19 522.98 l3.15 5.9 h-6.3 z" fill="#000"/>
<path d="M631.52 498.43 l3.15 5.9 h-6.3 z" fill="#000"/>
<path d="M637.02 460.1 l3.15 5.9 h-6.3 z" fill="#000"/>
<path d="M644.35 505.07 l3.15 5.9 h-6.3 z" fill="#000"/>
<path d="M649.85 491.05 l3.15 5.9 h-6.3 z" fill="#000"/>
<path d="M657.18 536.27 l3.15 5.9 h-6.3 z" fill="#000"/>
<path d="M662.68 549.88 l3.15 5.9 h-6.3 z" fill="#000"/>
<path d="M670.01 523.14 l3.15 5.9 h-6.3 z" fill="#000"/>
<path d="M675.51 537.32 l3.15 5.9 h-6.3 z" fill="#000"/>
<path d="M682.84 547.61 l3.15 5.9 h-6.3 z" fill="#000"/>
<path d="M688.34 554.1 l3.15 5.9 h-6.3 z" fill="#000"/>
<path d="M695.67 514.23 l3.15 5.9 h-6.3 z" fill="#000"/>
<path d="M701.17 529.54 l3.15 5.9 h-6.3 z" fill="#000"/>
<path d="M706.67 538.05 l3.15 5.9 h-6.3 z" fill="#000"/>
<path d="M712.17 521.04 l3.15 5.9 h-6.3 z" fill="#000"/>
<rect x="115.6" y="347.6" width="224.4" height="66.8" fill="#fff" stroke="#333" stroke-width="0.9"/>
<line x1="121.4" x2="137.7" y1="358.9" y2="358.9" stroke="#404040" stroke-width="1.9"/>
<rect x="126.8" y="356.1" width="6.4" height="5.6" fill="#404040"/>
<text x="143.3" y="362.9" font-size="14.2">Papapil (November 2019)</text>
<line x1="121.4" x2="137.7" y1="381.2" y2="381.2" stroke="#444" stroke-width="1.9" stroke-dasharray="0.8 0.75"/>
<circle cx="130" cy="381.2" r="2.95" fill="#404040"/>
<text x="143.3" y="385.6" font-size="14.2">Abongorwot (November 2019)</text>
<line x1="121.4" x2="129" y1="403.6" y2="403.6" stroke="#000" stroke-width="2"/>
<rect x="135.8" y="402.6" width="2" height="2" fill="#000"/>
<path d="M130 400.8 l2.95 5.7 h-5.9 z" fill="#000"/>
<text x="143.3" y="408.1" font-size="14.2">Pwomunu (control)</text>
<path d="M350.4 608.6 V620.4 H357.3 V608.6" fill="none" stroke="#222" stroke-width="0.9"/>
<path d="M350.4 603 l2.6 5.6 h-5.2 z" fill="#fff" stroke="#222" stroke-width="0.85" stroke-linejoin="miter"/>
<path d="M357.3 603 l2.6 5.6 h-5.2 z" fill="#fff" stroke="#222" stroke-width="0.85" stroke-linejoin="miter"/>
<text x="356" y="636.7" font-size="14" text-anchor="middle">slash</text>
<text transform="translate(12.3 466.45) rotate(-90)" font-size="14" text-anchor="middle">Daily Catch</text>
<text x="380.8" y="657.2" font-size="14" text-anchor="middle">Day</text>
<text x="2.6" y="337.4" font-size="21" font-weight="bold" fill="#000" stroke="none">B</text>
<path d="M48.4 920.1 V675.5 H714.5 V920.1" fill="none" stroke="#3a3a3a" stroke-width="1"/>
<line x1="48.4" x2="714.5" y1="920.1" y2="920.1" stroke="#7d7d7d" stroke-width="1.7"/>
<line x1="45" x2="48.4" y1="920.1" y2="920.1" stroke="#555" stroke-width="0.9"/>
<text x="44.4" y="925.1" font-size="14" text-anchor="end">0</text>
<line x1="46.6" x2="48.4" y1="913.31" y2="913.31" stroke="#555" stroke-width="0.7"/>
<line x1="46.6" x2="48.4" y1="906.51" y2="906.51" stroke="#555" stroke-width="0.7"/>
<line x1="46.6" x2="48.4" y1="899.72" y2="899.72" stroke="#555" stroke-width="0.7"/>
<line x1="45" x2="48.4" y1="892.92" y2="892.92" stroke="#555" stroke-width="0.9"/>
<text x="44.4" y="897.92" font-size="14" text-anchor="end">20</text>
<line x1="46.6" x2="48.4" y1="886.13" y2="886.13" stroke="#555" stroke-width="0.7"/>
<line x1="46.6" x2="48.4" y1="879.33" y2="879.33" stroke="#555" stroke-width="0.7"/>
<line x1="46.6" x2="48.4" y1="872.54" y2="872.54" stroke="#555" stroke-width="0.7"/>
<line x1="45" x2="48.4" y1="865.74" y2="865.74" stroke="#555" stroke-width="0.9"/>
<text x="44.4" y="870.74" font-size="14" text-anchor="end">40</text>
<line x1="46.6" x2="48.4" y1="858.95" y2="858.95" stroke="#555" stroke-width="0.7"/>
<line x1="46.6" x2="48.4" y1="852.16" y2="852.16" stroke="#555" stroke-width="0.7"/>
<line x1="46.6" x2="48.4" y1="845.36" y2="845.36" stroke="#555" stroke-width="0.7"/>
<line x1="45" x2="48.4" y1="838.57" y2="838.57" stroke="#555" stroke-width="0.9"/>
<text x="44.4" y="843.57" font-size="14" text-anchor="end">60</text>
<line x1="46.6" x2="48.4" y1="831.77" y2="831.77" stroke="#555" stroke-width="0.7"/>
<line x1="46.6" x2="48.4" y1="824.98" y2="824.98" stroke="#555" stroke-width="0.7"/>
<line x1="46.6" x2="48.4" y1="818.18" y2="818.18" stroke="#555" stroke-width="0.7"/>
<line x1="45" x2="48.4" y1="811.39" y2="811.39" stroke="#555" stroke-width="0.9"/>
<text x="44.4" y="816.39" font-size="14" text-anchor="end">80</text>
<line x1="46.6" x2="48.4" y1="804.59" y2="804.59" stroke="#555" stroke-width="0.7"/>
<line x1="46.6" x2="48.4" y1="797.8" y2="797.8" stroke="#555" stroke-width="0.7"/>
<line x1="46.6" x2="48.4" y1="791.01" y2="791.01" stroke="#555" stroke-width="0.7"/>
<line x1="45" x2="48.4" y1="784.21" y2="784.21" stroke="#555" stroke-width="0.9"/>
<text x="44.4" y="789.21" font-size="14" text-anchor="end">100</text>
<line x1="46.6" x2="48.4" y1="777.42" y2="777.42" stroke="#555" stroke-width="0.7"/>
<line x1="46.6" x2="48.4" y1="770.62" y2="770.62" stroke="#555" stroke-width="0.7"/>
<line x1="46.6" x2="48.4" y1="763.83" y2="763.83" stroke="#555" stroke-width="0.7"/>
<line x1="45" x2="48.4" y1="757.03" y2="757.03" stroke="#555" stroke-width="0.9"/>
<text x="44.4" y="762.03" font-size="14" text-anchor="end">120</text>
<line x1="46.6" x2="48.4" y1="750.24" y2="750.24" stroke="#555" stroke-width="0.7"/>
<line x1="46.6" x2="48.4" y1="743.44" y2="743.44" stroke="#555" stroke-width="0.7"/>
<line x1="46.6" x2="48.4" y1="736.65" y2="736.65" stroke="#555" stroke-width="0.7"/>
<line x1="45" x2="48.4" y1="729.86" y2="729.86" stroke="#555" stroke-width="0.9"/>
<text x="44.4" y="734.86" font-size="14" text-anchor="end">140</text>
<line x1="46.6" x2="48.4" y1="723.06" y2="723.06" stroke="#555" stroke-width="0.7"/>
<line x1="46.6" x2="48.4" y1="716.27" y2="716.27" stroke="#555" stroke-width="0.7"/>
<line x1="46.6" x2="48.4" y1="709.47" y2="709.47" stroke="#555" stroke-width="0.7"/>
<line x1="45" x2="48.4" y1="702.68" y2="702.68" stroke="#555" stroke-width="0.9"/>
<text x="44.4" y="707.68" font-size="14" text-anchor="end">160</text>
<line x1="46.6" x2="48.4" y1="695.88" y2="695.88" stroke="#555" stroke-width="0.7"/>
<line x1="46.6" x2="48.4" y1="689.09" y2="689.09" stroke="#555" stroke-width="0.7"/>
<line x1="46.6" x2="48.4" y1="682.29" y2="682.29" stroke="#555" stroke-width="0.7"/>
<line x1="45" x2="48.4" y1="675.5" y2="675.5" stroke="#555" stroke-width="0.9"/>
<text x="44.4" y="680.5" font-size="14" text-anchor="end">180</text>
<line x1="48.4" x2="48.4" y1="920.1" y2="926.9" stroke="#555" stroke-width="0.9"/>
<text x="48.4" y="940.1" font-size="14" text-anchor="middle">0</text>
<line x1="66.65" x2="66.65" y1="920.1" y2="924.4" stroke="#555" stroke-width="0.7"/>
<line x1="84.9" x2="84.9" y1="920.1" y2="924.4" stroke="#555" stroke-width="0.7"/>
<line x1="103.15" x2="103.15" y1="920.1" y2="924.4" stroke="#555" stroke-width="0.7"/>
<line x1="121.4" x2="121.4" y1="920.1" y2="924.4" stroke="#555" stroke-width="0.7"/>
<line x1="139.65" x2="139.65" y1="920.1" y2="926.9" stroke="#555" stroke-width="0.9"/>
<text x="139.65" y="940.1" font-size="14" text-anchor="middle">50</text>
<line x1="157.9" x2="157.9" y1="920.1" y2="924.4" stroke="#555" stroke-width="0.7"/>
<line x1="176.15" x2="176.15" y1="920.1" y2="924.4" stroke="#555" stroke-width="0.7"/>
<line x1="194.39" x2="194.39" y1="920.1" y2="924.4" stroke="#555" stroke-width="0.7"/>
<line x1="212.64" x2="212.64" y1="920.1" y2="924.4" stroke="#555" stroke-width="0.7"/>
<line x1="230.89" x2="230.89" y1="920.1" y2="926.9" stroke="#555" stroke-width="0.9"/>
<text x="230.89" y="940.1" font-size="14" text-anchor="middle">100</text>
<line x1="249.14" x2="249.14" y1="920.1" y2="924.4" stroke="#555" stroke-width="0.7"/>
<line x1="267.39" x2="267.39" y1="920.1" y2="924.4" stroke="#555" stroke-width="0.7"/>
<line x1="285.64" x2="285.64" y1="920.1" y2="924.4" stroke="#555" stroke-width="0.7"/>
<line x1="303.89" x2="303.89" y1="920.1" y2="924.4" stroke="#555" stroke-width="0.7"/>
<line x1="322.14" x2="322.14" y1="920.1" y2="926.9" stroke="#555" stroke-width="0.9"/>
<text x="322.14" y="940.1" font-size="14" text-anchor="middle">150</text>
<line x1="340.39" x2="340.39" y1="920.1" y2="924.4" stroke="#555" stroke-width="0.7"/>
<line x1="358.64" x2="358.64" y1="920.1" y2="924.4" stroke="#555" stroke-width="0.7"/>
<line x1="376.89" x2="376.89" y1="920.1" y2="924.4" stroke="#555" stroke-width="0.7"/>
<line x1="395.14" x2="395.14" y1="920.1" y2="924.4" stroke="#555" stroke-width="0.7"/>
<line x1="413.39" x2="413.39" y1="920.1" y2="926.9" stroke="#555" stroke-width="0.9"/>
<text x="413.39" y="940.1" font-size="14" text-anchor="middle">200</text>
<line x1="431.64" x2="431.64" y1="920.1" y2="924.4" stroke="#555" stroke-width="0.7"/>
<line x1="449.88" x2="449.88" y1="920.1" y2="924.4" stroke="#555" stroke-width="0.7"/>
<line x1="468.13" x2="468.13" y1="920.1" y2="924.4" stroke="#555" stroke-width="0.7"/>
<line x1="486.38" x2="486.38" y1="920.1" y2="924.4" stroke="#555" stroke-width="0.7"/>
<line x1="504.63" x2="504.63" y1="920.1" y2="926.9" stroke="#555" stroke-width="0.9"/>
<text x="504.63" y="940.1" font-size="14" text-anchor="middle">250</text>
<line x1="522.88" x2="522.88" y1="920.1" y2="924.4" stroke="#555" stroke-width="0.7"/>
<line x1="541.13" x2="541.13" y1="920.1" y2="924.4" stroke="#555" stroke-width="0.7"/>
<line x1="559.38" x2="559.38" y1="920.1" y2="924.4" stroke="#555" stroke-width="0.7"/>
<line x1="577.63" x2="577.63" y1="920.1" y2="924.4" stroke="#555" stroke-width="0.7"/>
<line x1="595.88" x2="595.88" y1="920.1" y2="926.9" stroke="#555" stroke-width="0.9"/>
<text x="595.88" y="940.1" font-size="14" text-anchor="middle">300</text>
<line x1="614.13" x2="614.13" y1="920.1" y2="924.4" stroke="#555" stroke-width="0.7"/>
<line x1="632.38" x2="632.38" y1="920.1" y2="924.4" stroke="#555" stroke-width="0.7"/>
<line x1="650.63" x2="650.63" y1="920.1" y2="924.4" stroke="#555" stroke-width="0.7"/>
<line x1="668.88" x2="668.88" y1="920.1" y2="924.4" stroke="#555" stroke-width="0.7"/>
<line x1="687.13" x2="687.13" y1="920.1" y2="926.9" stroke="#555" stroke-width="0.9"/>
<text x="687.13" y="940.1" font-size="14" text-anchor="middle">350</text>
<line x1="705.38" x2="705.38" y1="920.1" y2="924.4" stroke="#555" stroke-width="0.7"/>
<path d="M50.22 831.09 L52.05 822.26 L53.87 831.09 L55.7 807.31 L57.52 788.29 L59.35 863.03 L61.17 869.14 L68.47 857.59 L81.25 824.98 L83.07 797.8 L84.9 810.03 L86.72 800.52 L88.55 795.08 L94.02 844 L103.15 869.55 L108.62 892.65 L115.92 905.56 L121.4 916.7 L126.87 916.82 L134.17 917.31 L139.65 917.65 L146.95 916.13 L152.42 917.33 L159.72 916.75 L165.2 916.27 L172.5 916.6 L177.97 917.03 L185.27 916.67 L190.74 920.1 L198.04 920.1 L203.52 920.1 L210.82 920.1 L216.29 920.1 L223.59 920.1 L229.07 920.1 L236.37 920.1 L241.84 920.1 L249.14 920.1 L254.62 920.1 L261.92 920.1 L267.39 920.1 L274.69 920.1 L280.17 920.1 L287.47 920.1 L292.94 920.1 L300.24 920.1 L305.72 920.1 L313.02 920.1 L318.49 920.1 L325.79 920.1 L331.26 920.1 L338.56 920.1 L344.04 920.1 L351.34 920.1 L356.81 920.1 L364.11 920.1 L369.59 920.1 L376.89 920.1 L382.36 920.1 L389.66 920.1 L395.14 920.1 L402.44 920.1 L407.91 920.1 L415.21 920.1 L420.69 920.1 L427.99 920.1 L440.76 920.1 L446.24 920.1 L453.53 920.1 L459.01 920.1 L466.31 920.1 L471.78 920.1 L479.08 920.1 L484.56 920.1 L497.33 920.1 L504.63 920.1 L510.11 920.1 L517.41 917.96 L522.88 917.52 L530.18 918.81 L535.66 917.95 L542.96 918.54 L548.43 918.49 L555.73 917.54 L561.21 918.05 L568.51 917.94 L573.98 917.57 L581.28 917.28 L586.75 918.17 L594.05 917.85 L606.83 916.02 L612.3 916.02 L619.6 918.05 L625.08 918.04 L632.38 917.7 L637.85 918.15 L645.15 918 L650.63 916.02 L657.93 918.1 L663.4 917.22 L670.7 917.68 L676.18 917.35 L683.48 917.22 L688.95 918.52 L696.25 917.95 L701.73 917.22 L707.2 917.41 L712.68 918.75" fill="none" stroke="#404040" stroke-width="1.8" stroke-linejoin="round"/>
<rect x="47.22" y="828.29" width="6" height="5.6" fill="#404040"/>
<rect x="49.05" y="819.46" width="6" height="5.6" fill="#404040"/>
<rect x="50.87" y="828.29" width="6" height="5.6" fill="#404040"/>
<rect x="52.7" y="804.51" width="6" height="5.6" fill="#404040"/>
<rect x="54.52" y="785.49" width="6" height="5.6" fill="#404040"/>
<rect x="56.35" y="860.23" width="6" height="5.6" fill="#404040"/>
<rect x="58.17" y="866.34" width="6" height="5.6" fill="#404040"/>
<rect x="65.47" y="854.79" width="6" height="5.6" fill="#404040"/>
<rect x="78.25" y="822.18" width="6" height="5.6" fill="#404040"/>
<rect x="80.07" y="795" width="6" height="5.6" fill="#404040"/>
<rect x="81.9" y="807.23" width="6" height="5.6" fill="#404040"/>
<rect x="83.72" y="797.72" width="6" height="5.6" fill="#404040"/>
<rect x="85.55" y="792.28" width="6" height="5.6" fill="#404040"/>
<rect x="91.02" y="841.2" width="6" height="5.6" fill="#404040"/>
<rect x="100.15" y="866.75" width="6" height="5.6" fill="#404040"/>
<rect x="105.62" y="889.85" width="6" height="5.6" fill="#404040"/>
<rect x="112.92" y="902.76" width="6" height="5.6" fill="#404040"/>
<rect x="118.4" y="913.9" width="6" height="5.6" fill="#404040"/>
<rect x="123.87" y="914.02" width="6" height="5.6" fill="#404040"/>
<rect x="131.17" y="914.51" width="6" height="5.6" fill="#404040"/>
<rect x="136.65" y="914.85" width="6" height="5.6" fill="#404040"/>
<rect x="143.95" y="913.33" width="6" height="5.6" fill="#404040"/>
<rect x="149.42" y="914.53" width="6" height="5.6" fill="#404040"/>
<rect x="156.72" y="913.95" width="6" height="5.6" fill="#404040"/>
<rect x="162.2" y="913.47" width="6" height="5.6" fill="#404040"/>
<rect x="169.5" y="913.8" width="6" height="5.6" fill="#404040"/>
<rect x="174.97" y="914.23" width="6" height="5.6" fill="#404040"/>
<rect x="182.27" y="913.87" width="6" height="5.6" fill="#404040"/>
<rect x="187.74" y="917.3" width="6" height="5.6" fill="#404040"/>
<rect x="195.04" y="917.3" width="6" height="5.6" fill="#404040"/>
<rect x="200.52" y="917.3" width="6" height="5.6" fill="#404040"/>
<rect x="207.82" y="917.3" width="6" height="5.6" fill="#404040"/>
<rect x="213.29" y="917.3" width="6" height="5.6" fill="#404040"/>
<rect x="220.59" y="917.3" width="6" height="5.6" fill="#404040"/>
<rect x="226.07" y="917.3" width="6" height="5.6" fill="#404040"/>
<rect x="233.37" y="917.3" width="6" height="5.6" fill="#404040"/>
<rect x="238.84" y="917.3" width="6" height="5.6" fill="#404040"/>
<rect x="246.14" y="917.3" width="6" height="5.6" fill="#404040"/>
<rect x="251.62" y="917.3" width="6" height="5.6" fill="#404040"/>
<rect x="258.92" y="917.3" width="6" height="5.6" fill="#404040"/>
<rect x="264.39" y="917.3" width="6" height="5.6" fill="#404040"/>
<rect x="271.69" y="917.3" width="6" height="5.6" fill="#404040"/>
<rect x="277.17" y="917.3" width="6" height="5.6" fill="#404040"/>
<rect x="284.47" y="917.3" width="6" height="5.6" fill="#404040"/>
<rect x="289.94" y="917.3" width="6" height="5.6" fill="#404040"/>
<rect x="297.24" y="917.3" width="6" height="5.6" fill="#404040"/>
<rect x="302.72" y="917.3" width="6" height="5.6" fill="#404040"/>
<rect x="310.02" y="917.3" width="6" height="5.6" fill="#404040"/>
<rect x="315.49" y="917.3" width="6" height="5.6" fill="#404040"/>
<rect x="322.79" y="917.3" width="6" height="5.6" fill="#404040"/>
<rect x="328.26" y="917.3" width="6" height="5.6" fill="#404040"/>
<rect x="335.56" y="917.3" width="6" height="5.6" fill="#404040"/>
<rect x="341.04" y="917.3" width="6" height="5.6" fill="#404040"/>
<rect x="348.34" y="917.3" width="6" height="5.6" fill="#404040"/>
<rect x="353.81" y="917.3" width="6" height="5.6" fill="#404040"/>
<rect x="361.11" y="917.3" width="6" height="5.6" fill="#404040"/>
<rect x="366.59" y="917.3" width="6" height="5.6" fill="#404040"/>
<rect x="373.89" y="917.3" width="6" height="5.6" fill="#404040"/>
<rect x="379.36" y="917.3" width="6" height="5.6" fill="#404040"/>
<rect x="386.66" y="917.3" width="6" height="5.6" fill="#404040"/>
<rect x="392.14" y="917.3" width="6" height="5.6" fill="#404040"/>
<rect x="399.44" y="917.3" width="6" height="5.6" fill="#404040"/>
<rect x="404.91" y="917.3" width="6" height="5.6" fill="#404040"/>
<rect x="412.21" y="917.3" width="6" height="5.6" fill="#404040"/>
<rect x="417.69" y="917.3" width="6" height="5.6" fill="#404040"/>
<rect x="424.99" y="917.3" width="6" height="5.6" fill="#404040"/>
<rect x="437.76" y="917.3" width="6" height="5.6" fill="#404040"/>
<rect x="443.24" y="917.3" width="6" height="5.6" fill="#404040"/>
<rect x="450.53" y="917.3" width="6" height="5.6" fill="#404040"/>
<rect x="456.01" y="917.3" width="6" height="5.6" fill="#404040"/>
<rect x="463.31" y="917.3" width="6" height="5.6" fill="#404040"/>
<rect x="468.78" y="917.3" width="6" height="5.6" fill="#404040"/>
<rect x="476.08" y="917.3" width="6" height="5.6" fill="#404040"/>
<rect x="481.56" y="917.3" width="6" height="5.6" fill="#404040"/>
<rect x="494.33" y="917.3" width="6" height="5.6" fill="#404040"/>
<rect x="501.63" y="917.3" width="6" height="5.6" fill="#404040"/>
<rect x="507.11" y="917.3" width="6" height="5.6" fill="#404040"/>
<rect x="514.41" y="915.16" width="6" height="5.6" fill="#404040"/>
<rect x="519.88" y="914.72" width="6" height="5.6" fill="#404040"/>
<rect x="527.18" y="916.01" width="6" height="5.6" fill="#404040"/>
<rect x="532.66" y="915.15" width="6" height="5.6" fill="#404040"/>
<rect x="539.96" y="915.74" width="6" height="5.6" fill="#404040"/>
<rect x="545.43" y="915.69" width="6" height="5.6" fill="#404040"/>
<rect x="552.73" y="914.74" width="6" height="5.6" fill="#404040"/>
<rect x="558.21" y="915.25" width="6" height="5.6" fill="#404040"/>
<rect x="565.51" y="915.14" width="6" height="5.6" fill="#404040"/>
<rect x="570.98" y="914.77" width="6" height="5.6" fill="#404040"/>
<rect x="578.28" y="914.48" width="6" height="5.6" fill="#404040"/>
<rect x="583.75" y="915.37" width="6" height="5.6" fill="#404040"/>
<rect x="591.05" y="915.05" width="6" height="5.6" fill="#404040"/>
<rect x="603.83" y="913.22" width="6" height="5.6" fill="#404040"/>
<rect x="609.3" y="913.22" width="6" height="5.6" fill="#404040"/>
<rect x="616.6" y="915.25" width="6" height="5.6" fill="#404040"/>
<rect x="622.08" y="915.24" width="6" height="5.6" fill="#404040"/>
<rect x="629.38" y="914.9" width="6" height="5.6" fill="#404040"/>
<rect x="634.85" y="915.35" width="6" height="5.6" fill="#404040"/>
<rect x="642.15" y="915.2" width="6" height="5.6" fill="#404040"/>
<rect x="647.63" y="913.22" width="6" height="5.6" fill="#404040"/>
<rect x="654.93" y="915.3" width="6" height="5.6" fill="#404040"/>
<rect x="660.4" y="914.42" width="6" height="5.6" fill="#404040"/>
<rect x="667.7" y="914.88" width="6" height="5.6" fill="#404040"/>
<rect x="673.18" y="914.55" width="6" height="5.6" fill="#404040"/>
<rect x="680.48" y="914.42" width="6" height="5.6" fill="#404040"/>
<rect x="685.95" y="915.72" width="6" height="5.6" fill="#404040"/>
<rect x="693.25" y="915.15" width="6" height="5.6" fill="#404040"/>
<rect x="698.73" y="914.42" width="6" height="5.6" fill="#404040"/>
<rect x="704.2" y="914.61" width="6" height="5.6" fill="#404040"/>
<rect x="709.68" y="915.95" width="6" height="5.6" fill="#404040"/>
<path d="M50.22 824.98 L52.05 867.1 L53.87 887.49 L55.7 888.85 L57.52 837.21 L59.35 850.8 L61.17 860.31 L68.47 823.62 L81.25 888.44 L83.07 873.9 L84.9 853.51 L86.72 875.26 L88.55 815.47 L94.02 824.98 L103.15 860.31 L108.62 899.72 L115.92 910.59 L121.4 916.02 L126.87 917.78 L134.17 917.04 L139.65 917.89 L146.95 917.51 L152.42 917.89 L159.72 916.52 L165.2 916.25 L172.5 915.99 L177.97 917.7 L185.27 916.41 L190.74 919.88 L198.04 920.05 L203.52 919.8 L210.82 919.77 L216.29 920.03 L223.59 919.78 L229.07 919.96 L236.37 919.93 L241.84 919.76 L249.14 919.82 L254.62 920.05 L261.92 919.95 L267.39 919.92 L274.69 919.98 L280.17 920.03 L287.47 919.99 L292.94 919.85 L300.24 920.09 L305.72 919.91 L313.02 919.95 L318.49 920.09 L325.79 919.99 L331.26 919.89 L338.56 919.93 L344.04 920.08 L351.34 919.77 L356.81 919.83 L364.11 919.77 L369.59 920.06 L376.89 920.01 L382.36 920.09 L389.66 919.84 L395.14 920.01 L402.44 920.06 L407.91 919.96 L415.21 919.79 L420.69 919.82 L427.99 920.01 L440.76 920.05 L446.24 919.79 L453.53 919.91 L459.01 919.86 L466.31 920.07 L471.78 920.08 L479.08 919.87 L484.56 919.96 L497.33 920.08 L504.63 919.78 L510.11 919.88 L517.41 917.49 L522.88 918.85 L530.18 917.38 L535.66 918.89 L542.96 917.37 L548.43 918.15 L555.73 918.37 L561.21 917.96 L568.51 917.25 L573.98 918.5 L581.28 918.77 L586.75 918.01 L594.05 918.56 L606.83 918.8 L612.3 918.71 L619.6 918.92 L625.08 918.63 L632.38 918.42 L637.85 918.43 L645.15 917.57 L650.63 918.46 L657.93 918.06 L663.4 918.67 L670.7 918.35 L676.18 918.98 L683.48 918.54 L688.95 918.98 L696.25 917.62 L701.73 917.96 L707.2 911.54 L712.68 918.65" fill="none" stroke="#444" stroke-width="1.8" stroke-dasharray="0.8 0.75"/>
<circle cx="50.22" cy="824.98" r="2.95" fill="#404040"/>
<circle cx="52.05" cy="867.1" r="2.95" fill="#404040"/>
<circle cx="53.87" cy="887.49" r="2.95" fill="#404040"/>
<circle cx="55.7" cy="888.85" r="2.95" fill="#404040"/>
<circle cx="57.52" cy="837.21" r="2.95" fill="#404040"/>
<circle cx="59.35" cy="850.8" r="2.95" fill="#404040"/>
<circle cx="61.17" cy="860.31" r="2.95" fill="#404040"/>
<circle cx="68.47" cy="823.62" r="2.95" fill="#404040"/>
<circle cx="81.25" cy="888.44" r="2.95" fill="#404040"/>
<circle cx="83.07" cy="873.9" r="2.95" fill="#404040"/>
<circle cx="84.9" cy="853.51" r="2.95" fill="#404040"/>
<circle cx="86.72" cy="875.26" r="2.95" fill="#404040"/>
<circle cx="88.55" cy="815.47" r="2.95" fill="#404040"/>
<circle cx="94.02" cy="824.98" r="2.95" fill="#404040"/>
<circle cx="103.15" cy="860.31" r="2.95" fill="#404040"/>
<circle cx="108.62" cy="899.72" r="2.95" fill="#404040"/>
<circle cx="115.92" cy="910.59" r="2.95" fill="#404040"/>
<circle cx="121.4" cy="916.02" r="2.95" fill="#404040"/>
<circle cx="126.87" cy="917.78" r="2.95" fill="#404040"/>
<circle cx="134.17" cy="917.04" r="2.95" fill="#404040"/>
<circle cx="139.65" cy="917.89" r="2.95" fill="#404040"/>
<circle cx="146.95" cy="917.51" r="2.95" fill="#404040"/>
<circle cx="152.42" cy="917.89" r="2.95" fill="#404040"/>
<circle cx="159.72" cy="916.52" r="2.95" fill="#404040"/>
<circle cx="165.2" cy="916.25" r="2.95" fill="#404040"/>
<circle cx="172.5" cy="915.99" r="2.95" fill="#404040"/>
<circle cx="177.97" cy="917.7" r="2.95" fill="#404040"/>
<circle cx="185.27" cy="916.41" r="2.95" fill="#404040"/>
<circle cx="190.74" cy="919.88" r="2.95" fill="#404040"/>
<circle cx="198.04" cy="920.05" r="2.95" fill="#404040"/>
<circle cx="203.52" cy="919.8" r="2.95" fill="#404040"/>
<circle cx="210.82" cy="919.77" r="2.95" fill="#404040"/>
<circle cx="216.29" cy="920.03" r="2.95" fill="#404040"/>
<circle cx="223.59" cy="919.78" r="2.95" fill="#404040"/>
<circle cx="229.07" cy="919.96" r="2.95" fill="#404040"/>
<circle cx="236.37" cy="919.93" r="2.95" fill="#404040"/>
<circle cx="241.84" cy="919.76" r="2.95" fill="#404040"/>
<circle cx="249.14" cy="919.82" r="2.95" fill="#404040"/>
<circle cx="254.62" cy="920.05" r="2.95" fill="#404040"/>
<circle cx="261.92" cy="919.95" r="2.95" fill="#404040"/>
<circle cx="267.39" cy="919.92" r="2.95" fill="#404040"/>
<circle cx="274.69" cy="919.98" r="2.95" fill="#404040"/>
<circle cx="280.17" cy="920.03" r="2.95" fill="#404040"/>
<circle cx="287.47" cy="919.99" r="2.95" fill="#404040"/>
<circle cx="292.94" cy="919.85" r="2.95" fill="#404040"/>
<circle cx="300.24" cy="920.09" r="2.95" fill="#404040"/>
<circle cx="305.72" cy="919.91" r="2.95" fill="#404040"/>
<circle cx="313.02" cy="919.95" r="2.95" fill="#404040"/>
<circle cx="318.49" cy="920.09" r="2.95" fill="#404040"/>
<circle cx="325.79" cy="919.99" r="2.95" fill="#404040"/>
<circle cx="331.26" cy="919.89" r="2.95" fill="#404040"/>
<circle cx="338.56" cy="919.93" r="2.95" fill="#404040"/>
<circle cx="344.04" cy="920.08" r="2.95" fill="#404040"/>
<circle cx="351.34" cy="919.77" r="2.95" fill="#404040"/>
<circle cx="356.81" cy="919.83" r="2.95" fill="#404040"/>
<circle cx="364.11" cy="919.77" r="2.95" fill="#404040"/>
<circle cx="369.59" cy="920.06" r="2.95" fill="#404040"/>
<circle cx="376.89" cy="920.01" r="2.95" fill="#404040"/>
<circle cx="382.36" cy="920.09" r="2.95" fill="#404040"/>
<circle cx="389.66" cy="919.84" r="2.95" fill="#404040"/>
<circle cx="395.14" cy="920.01" r="2.95" fill="#404040"/>
<circle cx="402.44" cy="920.06" r="2.95" fill="#404040"/>
<circle cx="407.91" cy="919.96" r="2.95" fill="#404040"/>
<circle cx="415.21" cy="919.79" r="2.95" fill="#404040"/>
<circle cx="420.69" cy="919.82" r="2.95" fill="#404040"/>
<circle cx="427.99" cy="920.01" r="2.95" fill="#404040"/>
<circle cx="440.76" cy="920.05" r="2.95" fill="#404040"/>
<circle cx="446.24" cy="919.79" r="2.95" fill="#404040"/>
<circle cx="453.53" cy="919.91" r="2.95" fill="#404040"/>
<circle cx="459.01" cy="919.86" r="2.95" fill="#404040"/>
<circle cx="466.31" cy="920.07" r="2.95" fill="#404040"/>
<circle cx="471.78" cy="920.08" r="2.95" fill="#404040"/>
<circle cx="479.08" cy="919.87" r="2.95" fill="#404040"/>
<circle cx="484.56" cy="919.96" r="2.95" fill="#404040"/>
<circle cx="497.33" cy="920.08" r="2.95" fill="#404040"/>
<circle cx="504.63" cy="919.78" r="2.95" fill="#404040"/>
<circle cx="510.11" cy="919.88" r="2.95" fill="#404040"/>
<circle cx="517.41" cy="917.49" r="2.95" fill="#404040"/>
<circle cx="522.88" cy="918.85" r="2.95" fill="#404040"/>
<circle cx="530.18" cy="917.38" r="2.95" fill="#404040"/>
<circle cx="535.66" cy="918.89" r="2.95" fill="#404040"/>
<circle cx="542.96" cy="917.37" r="2.95" fill="#404040"/>
<circle cx="548.43" cy="918.15" r="2.95" fill="#404040"/>
<circle cx="555.73" cy="918.37" r="2.95" fill="#404040"/>
<circle cx="561.21" cy="917.96" r="2.95" fill="#404040"/>
<circle cx="568.51" cy="917.25" r="2.95" fill="#404040"/>
<circle cx="573.98" cy="918.5" r="2.95" fill="#404040"/>
<circle cx="581.28" cy="918.77" r="2.95" fill="#404040"/>
<circle cx="586.75" cy="918.01" r="2.95" fill="#404040"/>
<circle cx="594.05" cy="918.56" r="2.95" fill="#404040"/>
<circle cx="606.83" cy="918.8" r="2.95" fill="#404040"/>
<circle cx="612.3" cy="918.71" r="2.95" fill="#404040"/>
<circle cx="619.6" cy="918.92" r="2.95" fill="#404040"/>
<circle cx="625.08" cy="918.63" r="2.95" fill="#404040"/>
<circle cx="632.38" cy="918.42" r="2.95" fill="#404040"/>
<circle cx="637.85" cy="918.43" r="2.95" fill="#404040"/>
<circle cx="645.15" cy="917.57" r="2.95" fill="#404040"/>
<circle cx="650.63" cy="918.46" r="2.95" fill="#404040"/>
<circle cx="657.93" cy="918.06" r="2.95" fill="#404040"/>
<circle cx="663.4" cy="918.67" r="2.95" fill="#404040"/>
<circle cx="670.7" cy="918.35" r="2.95" fill="#404040"/>
<circle cx="676.18" cy="918.98" r="2.95" fill="#404040"/>
<circle cx="683.48" cy="918.54" r="2.95" fill="#404040"/>
<circle cx="688.95" cy="918.98" r="2.95" fill="#404040"/>
<circle cx="696.25" cy="917.62" r="2.95" fill="#404040"/>
<circle cx="701.73" cy="917.96" r="2.95" fill="#404040"/>
<circle cx="707.2" cy="911.54" r="2.95" fill="#404040"/>
<circle cx="712.68" cy="918.65" r="2.95" fill="#404040"/>
<path d="M50.22 755.67 L52.05 698.6 L53.87 717.63 L55.7 687.73 L57.52 771.98 L59.35 724.42 L61.17 746.16 L68.47 689.09 L81.25 774.7 L83.07 762.47 L84.9 751.6 L86.72 769.26 L88.55 761.11 L94.02 750.24 L103.15 786.93 L108.62 804.59 L115.92 784.21 L121.4 816.82 L126.87 902.84 L134.17 888.03 L139.65 890.48 L146.95 891.02 L152.42 900.8 L159.72 902.84 L165.2 885.31 L172.5 883.95 L177.97 894.96 L185.27 885.04 L190.74 836.94 L198.04 845.77 L203.52 881.1 L210.82 872.67 L216.29 828.51 L223.59 888.98 L229.07 882.59 L236.37 892.92 L241.84 879.33 L249.14 884.5 L254.62 891.97 L261.92 876.21 L267.39 853.65 L274.69 884.09 L280.17 878.25 L287.47 875.26 L292.94 853.65 L300.24 883.14 L305.72 892.92 L313.02 891.97 L318.49 883.14 L325.79 874.31 L331.26 888.03 L338.56 879.2 L344.04 860.58 L351.34 864.39 L356.81 867.78 L364.11 878.25 L369.59 883.68 L376.89 879.2 L382.36 857.59 L389.66 890.07 L395.14 872.67 L402.44 853.65 L407.91 881.24 L415.21 873.9 L420.69 884.5 L427.99 882.19 L440.76 896.46 L446.24 905.7 L453.53 904.2 L459.01 909.64 L466.31 912.08 L471.78 898.77 L479.08 907.73 L484.56 902.71 L497.33 891.43 L504.63 877.97 L510.11 919.83 L517.41 902.43 L522.88 880.56 L530.18 892.24 L535.66 899.99 L542.96 861.26 L548.43 830.14 L555.73 826.34 L561.21 888.3 L568.51 836.66 L573.98 829.46 L581.28 796.03 L586.75 782.44 L594.05 754.45 L606.83 860.17 L612.3 800.25 L619.6 866.97 L625.08 814.92 L632.38 773.75 L637.85 709.47 L645.15 784.89 L650.63 761.38 L657.93 837.21 L663.4 860.04 L670.7 815.19 L676.18 838.97 L683.48 856.23 L688.95 867.1 L696.25 800.25 L701.73 825.93 L707.2 840.2 L712.68 811.66" fill="none" stroke="#000" stroke-width="2.05" stroke-dasharray="8.6 5.9"/>
<path d="M50.22 752.37 l3.15 5.9 h-6.3 z" fill="#000"/>
<path d="M52.05 695.3 l3.15 5.9 h-6.3 z" fill="#000"/>
<path d="M53.87 714.33 l3.15 5.9 h-6.3 z" fill="#000"/>
<path d="M55.7 684.43 l3.15 5.9 h-6.3 z" fill="#000"/>
<path d="M57.52 768.68 l3.15 5.9 h-6.3 z" fill="#000"/>
<path d="M59.35 721.12 l3.15 5.9 h-6.3 z" fill="#000"/>
<path d="M61.17 742.86 l3.15 5.9 h-6.3 z" fill="#000"/>
<path d="M68.47 685.79 l3.15 5.9 h-6.3 z" fill="#000"/>
<path d="M81.25 771.4 l3.15 5.9 h-6.3 z" fill="#000"/>
<path d="M83.07 759.17 l3.15 5.9 h-6.3 z" fill="#000"/>
<path d="M84.9 748.3 l3.15 5.9 h-6.3 z" fill="#000"/>
<path d="M86.72 765.96 l3.15 5.9 h-6.3 z" fill="#000"/>
<path d="M88.55 757.81 l3.15 5.9 h-6.3 z" fill="#000"/>
<path d="M94.02 746.94 l3.15 5.9 h-6.3 z" fill="#000"/>
<path d="M103.15 783.63 l3.15 5.9 h-6.3 z" fill="#000"/>
<path d="M108.62 801.29 l3.15 5.9 h-6.3 z" fill="#000"/>
<path d="M115.92 780.91 l3.15 5.9 h-6.3 z" fill="#000"/>
<path d="M121.4 813.52 l3.15 5.9 h-6.3 z" fill="#000"/>
<path d="M126.87 899.54 l3.15 5.9 h-6.3 z" fill="#000"/>
<path d="M134.17 884.73 l3.15 5.9 h-6.3 z" fill="#000"/>
<path d="M139.65 887.18 l3.15 5.9 h-6.3 z" fill="#000"/>
<path d="M146.95 887.72 l3.15 5.9 h-6.3 z" fill="#000"/>
<path d="M152.42 897.5 l3.15 5.9 h-6.3 z" fill="#000"/>
<path d="M159.72 899.54 l3.15 5.9 h-6.3 z" fill="#000"/>
<path d="M165.2 882.01 l3.15 5.9 h-6.3 z" fill="#000"/>
<path d="M172.5 880.65 l3.15 5.9 h-6.3 z" fill="#000"/>
<path d="M177.97 891.66 l3.15 5.9 h-6.3 z" fill="#000"/>
<path d="M185.27 881.74 l3.15 5.9 h-6.3 z" fill="#000"/>
<path d="M190.74 833.64 l3.15 5.9 h-6.3 z" fill="#000"/>
<path d="M198.04 842.47 l3.15 5.9 h-6.3 z" fill="#000"/>
<path d="M203.52 877.8 l3.15 5.9 h-6.3 z" fill="#000"/>
<path d="M210.82 869.37 l3.15 5.9 h-6.3 z" fill="#000"/>
<path d="M216.29 825.21 l3.15 5.9 h-6.3 z" fill="#000"/>
<path d="M223.59 885.68 l3.15 5.9 h-6.3 z" fill="#000"/>
<path d="M229.07 879.29 l3.15 5.9 h-6.3 z" fill="#000"/>
<path d="M236.37 889.62 l3.15 5.9 h-6.3 z" fill="#000"/>
<path d="M241.84 876.03 l3.15 5.9 h-6.3 z" fill="#000"/>
<path d="M249.14 881.2 l3.15 5.9 h-6.3 z" fill="#000"/>
<path d="M254.62 888.67 l3.15 5.9 h-6.3 z" fill="#000"/>
<path d="M261.92 872.91 l3.15 5.9 h-6.3 z" fill="#000"/>
<path d="M267.39 850.35 l3.15 5.9 h-6.3 z" fill="#000"/>
<path d="M274.69 880.79 l3.15 5.9 h-6.3 z" fill="#000"/>
<path d="M280.17 874.95 l3.15 5.9 h-6.3 z" fill="#000"/>
<path d="M287.47 871.96 l3.15 5.9 h-6.3 z" fill="#000"/>
<path d="M292.94 850.35 l3.15 5.9 h-6.3 z" fill="#000"/>
<path d="M300.24 879.84 l3.15 5.9 h-6.3 z" fill="#000"/>
<path d="M305.72 889.62 l3.15 5.9 h-6.3 z" fill="#000"/>
<path d="M313.02 888.67 l3.15 5.9 h-6.3 z" fill="#000"/>
<path d="M318.49 879.84 l3.15 5.9 h-6.3 z" fill="#000"/>
<path d="M325.79 871.01 l3.15 5.9 h-6.3 z" fill="#000"/>
<path d="M331.26 884.73 l3.15 5.9 h-6.3 z" fill="#000"/>
<path d="M338.56 875.9 l3.15 5.9 h-6.3 z" fill="#000"/>
<path d="M344.04 857.28 l3.15 5.9 h-6.3 z" fill="#000"/>
<path d="M351.34 861.09 l3.15 5.9 h-6.3 z" fill="#000"/>
<path d="M356.81 864.48 l3.15 5.9 h-6.3 z" fill="#000"/>
<path d="M364.11 874.95 l3.15 5.9 h-6.3 z" fill="#000"/>
<path d="M369.59 880.38 l3.15 5.9 h-6.3 z" fill="#000"/>
<path d="M376.89 875.9 l3.15 5.9 h-6.3 z" fill="#000"/>
<path d="M382.36 854.29 l3.15 5.9 h-6.3 z" fill="#000"/>
<path d="M389.66 886.77 l3.15 5.9 h-6.3 z" fill="#000"/>
<path d="M395.14 869.37 l3.15 5.9 h-6.3 z" fill="#000"/>
<path d="M402.44 850.35 l3.15 5.9 h-6.3 z" fill="#000"/>
<path d="M407.91 877.94 l3.15 5.9 h-6.3 z" fill="#000"/>
<path d="M415.21 870.6 l3.15 5.9 h-6.3 z" fill="#000"/>
<path d="M420.69 881.2 l3.15 5.9 h-6.3 z" fill="#000"/>
<path d="M427.99 878.89 l3.15 5.9 h-6.3 z" fill="#000"/>
<path d="M440.76 893.16 l3.15 5.9 h-6.3 z" fill="#000"/>
<path d="M446.24 902.4 l3.15 5.9 h-6.3 z" fill="#000"/>
<path d="M453.53 900.9 l3.15 5.9 h-6.3 z" fill="#000"/>
<path d="M459.01 906.34 l3.15 5.9 h-6.3 z" fill="#000"/>
<path d="M466.31 908.78 l3.15 5.9 h-6.3 z" fill="#000"/>
<path d="M471.78 895.47 l3.15 5.9 h-6.3 z" fill="#000"/>
<path d="M479.08 904.43 l3.15 5.9 h-6.3 z" fill="#000"/>
<path d="M484.56 899.41 l3.15 5.9 h-6.3 z" fill="#000"/>
<path d="M497.33 888.13 l3.15 5.9 h-6.3 z" fill="#000"/>
<path d="M504.63 874.67 l3.15 5.9 h-6.3 z" fill="#000"/>
<path d="M510.11 916.53 l3.15 5.9 h-6.3 z" fill="#000"/>
<path d="M517.41 899.13 l3.15 5.9 h-6.3 z" fill="#000"/>
<path d="M522.88 877.26 l3.15 5.9 h-6.3 z" fill="#000"/>
<path d="M530.18 888.94 l3.15 5.9 h-6.3 z" fill="#000"/>
<path d="M535.66 896.69 l3.15 5.9 h-6.3 z" fill="#000"/>
<path d="M542.96 857.96 l3.15 5.9 h-6.3 z" fill="#000"/>
<path d="M548.43 826.84 l3.15 5.9 h-6.3 z" fill="#000"/>
<path d="M555.73 823.04 l3.15 5.9 h-6.3 z" fill="#000"/>
<path d="M561.21 885 l3.15 5.9 h-6.3 z" fill="#000"/>
<path d="M568.51 833.36 l3.15 5.9 h-6.3 z" fill="#000"/>
<path d="M573.98 826.16 l3.15 5.9 h-6.3 z" fill="#000"/>
<path d="M581.28 792.73 l3.15 5.9 h-6.3 z" fill="#000"/>
<path d="M586.75 779.14 l3.15 5.9 h-6.3 z" fill="#000"/>
<path d="M594.05 751.15 l3.15 5.9 h-6.3 z" fill="#000"/>
<path d="M606.83 856.87 l3.15 5.9 h-6.3 z" fill="#000"/>
<path d="M612.3 796.95 l3.15 5.9 h-6.3 z" fill="#000"/>
<path d="M619.6 863.67 l3.15 5.9 h-6.3 z" fill="#000"/>
<path d="M625.08 811.62 l3.15 5.9 h-6.3 z" fill="#000"/>
<path d="M632.38 770.45 l3.15 5.9 h-6.3 z" fill="#000"/>
<path d="M637.85 706.17 l3.15 5.9 h-6.3 z" fill="#000"/>
<path d="M645.15 781.59 l3.15 5.9 h-6.3 z" fill="#000"/>
<path d="M650.63 758.08 l3.15 5.9 h-6.3 z" fill="#000"/>
<path d="M657.93 833.91 l3.15 5.9 h-6.3 z" fill="#000"/>
<path d="M663.4 856.74 l3.15 5.9 h-6.3 z" fill="#000"/>
<path d="M670.7 811.89 l3.15 5.9 h-6.3 z" fill="#000"/>
<path d="M676.18 835.67 l3.15 5.9 h-6.3 z" fill="#000"/>
<path d="M683.48 852.93 l3.15 5.9 h-6.3 z" fill="#000"/>
<path d="M688.95 863.8 l3.15 5.9 h-6.3 z" fill="#000"/>
<path d="M696.25 796.95 l3.15 5.9 h-6.3 z" fill="#000"/>
<path d="M701.73 822.63 l3.15 5.9 h-6.3 z" fill="#000"/>
<path d="M707.2 836.9 l3.15 5.9 h-6.3 z" fill="#000"/>
<path d="M712.68 808.36 l3.15 5.9 h-6.3 z" fill="#000"/>
<rect x="122.3" y="677.4" width="274.3" height="67.1" fill="#fff" stroke="#333" stroke-width="0.9"/>
<line x1="128.3" x2="144.7" y1="688.8" y2="688.8" stroke="#404040" stroke-width="1.9"/>
<rect x="133.6" y="686" width="6.4" height="5.6" fill="#404040"/>
<text x="150.45" y="693.4" font-size="14.2">Patilei (June 2019 &amp; November 2019)</text>
<line x1="128.3" x2="144.7" y1="711" y2="711" stroke="#444" stroke-width="1.9" stroke-dasharray="0.8 0.75"/>
<circle cx="136.8" cy="711" r="2.95" fill="#404040"/>
<text x="150.45" y="715.6" font-size="14.2">Gunya (June 2019 &amp; November 2019)</text>
<line x1="128.3" x2="135.8" y1="732.8" y2="732.8" stroke="#000" stroke-width="2"/>
<rect x="142.8" y="731.8" width="2" height="2" fill="#000"/>
<path d="M136.8 730 l2.95 5.7 h-5.9 z" fill="#000"/>
<text x="150.45" y="738" font-size="14.2">Pwomunu (control)</text>
<path d="M68.2 943.2 V953.3 H88.7 V943.2" fill="none" stroke="#222" stroke-width="0.9"/>
<path d="M68.2 938 l2.6 5.2 h-5.2 z" fill="#fff" stroke="#222" stroke-width="0.85" stroke-linejoin="miter"/>
<path d="M88.7 938 l2.6 5.2 h-5.2 z" fill="#fff" stroke="#222" stroke-width="0.85" stroke-linejoin="miter"/>
<text x="76.9" y="969.9" font-size="14" text-anchor="middle">slash</text>
<path d="M351.8 943.2 V955.4 H358.7 V943.2" fill="none" stroke="#222" stroke-width="0.9"/>
<path d="M351.8 938 l2.6 5.2 h-5.2 z" fill="#fff" stroke="#222" stroke-width="0.85" stroke-linejoin="miter"/>
<path d="M358.7 938 l2.6 5.2 h-5.2 z" fill="#fff" stroke="#222" stroke-width="0.85" stroke-linejoin="miter"/>
<text x="351.85" y="969.9" font-size="14" text-anchor="middle">slash</text>
<text transform="translate(15.5 796.8) rotate(-90)" font-size="14" text-anchor="middle">Daily Catch</text>
<text x="382" y="988.4" font-size="14" text-anchor="middle">Day</text>
<text x="2.6" y="671.9" font-size="21" font-weight="bold" fill="#000" stroke="none">C</text>
</svg></body></html>
